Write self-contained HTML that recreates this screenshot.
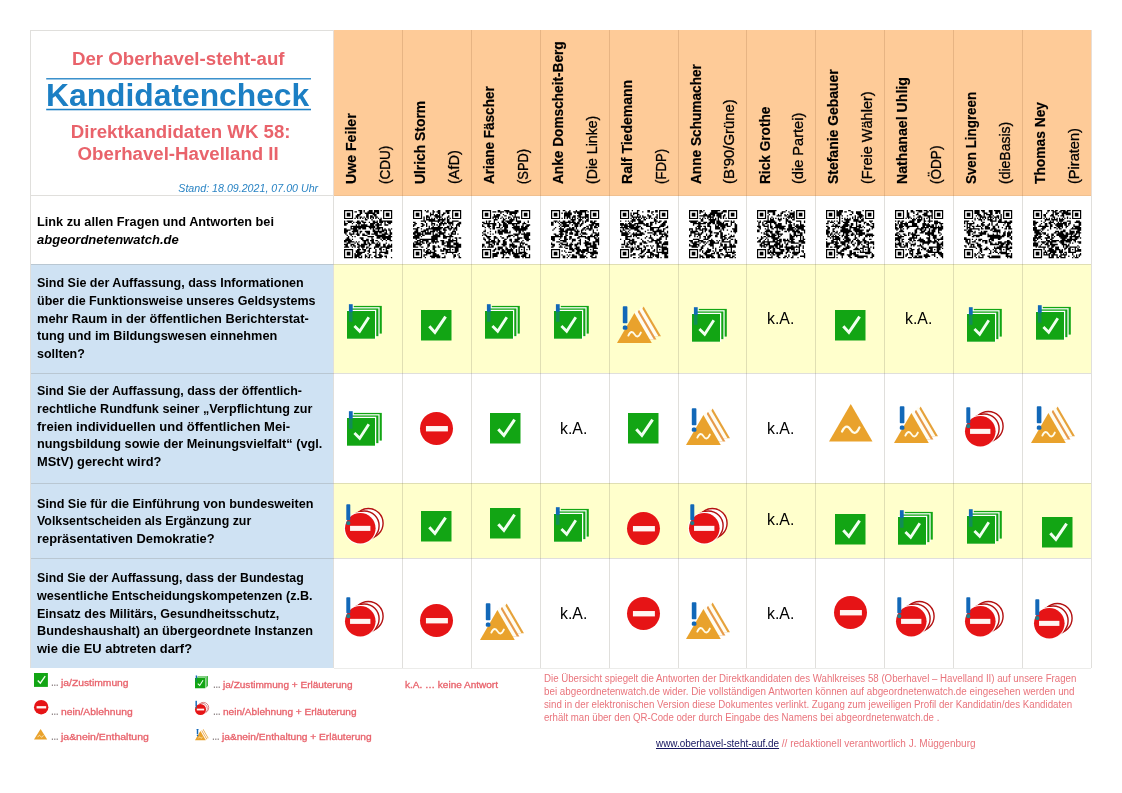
<!DOCTYPE html>
<html lang="de"><head><meta charset="utf-8"><title>Kandidatencheck – Der Oberhavel-steht-auf</title>
<style>
html,body{margin:0;padding:0;background:#fff}
body{width:1122px;height:793px;position:relative;overflow:hidden;font-family:"Liberation Sans",sans-serif}
.b{position:absolute}
.i{position:absolute;overflow:visible}
.t{position:absolute;white-space:pre;line-height:1;transform-origin:0 0;margin:0}
.r{transform-origin:0 0}
</style></head><body>
<div class="b" style="left:333.50px;top:30.40px;width:757.90px;height:165.50px;background:#fecb98"></div>
<div class="b" style="left:30.60px;top:264.40px;width:302.90px;height:403.90px;background:#cfe2f3"></div>
<div class="b" style="left:333.50px;top:264.40px;width:757.90px;height:109.00px;background:#ffffcc"></div>
<div class="b" style="left:333.50px;top:483.40px;width:757.90px;height:75.00px;background:#ffffcc"></div>
<div class="b" style="left:30.60px;top:29.90px;width:302.90px;height:1.00px;background:rgba(100,95,80,0.2)"></div>
<div class="b" style="left:30.60px;top:195.40px;width:302.90px;height:1.00px;background:rgba(100,95,80,0.2)"></div>
<div class="b" style="left:333.50px;top:195.40px;width:757.90px;height:1.00px;background:rgba(120,100,80,0.10)"></div>
<div class="b" style="left:30.60px;top:263.90px;width:1060.80px;height:1.00px;background:rgba(100,95,80,0.2)"></div>
<div class="b" style="left:30.60px;top:372.90px;width:1060.80px;height:1.00px;background:rgba(100,95,80,0.2)"></div>
<div class="b" style="left:30.60px;top:482.90px;width:1060.80px;height:1.00px;background:rgba(100,95,80,0.2)"></div>
<div class="b" style="left:30.60px;top:557.90px;width:1060.80px;height:1.00px;background:rgba(100,95,80,0.2)"></div>
<div class="b" style="left:333.50px;top:667.80px;width:757.90px;height:1.00px;background:rgba(100,95,80,0.12)"></div>
<div class="b" style="left:30.10px;top:30.40px;width:1.00px;height:637.90px;background:rgba(100,95,80,0.2)"></div>
<div class="b" style="left:333.00px;top:30.40px;width:1.00px;height:165.50px;background:rgba(140,90,50,0.2)"></div>
<div class="b" style="left:333.00px;top:195.90px;width:1.00px;height:472.40px;background:rgba(100,95,80,0.2)"></div>
<div class="b" style="left:401.90px;top:30.40px;width:1.00px;height:165.50px;background:rgba(140,90,50,0.2)"></div>
<div class="b" style="left:401.90px;top:195.90px;width:1.00px;height:472.40px;background:rgba(100,95,80,0.2)"></div>
<div class="b" style="left:470.80px;top:30.40px;width:1.00px;height:165.50px;background:rgba(140,90,50,0.2)"></div>
<div class="b" style="left:470.80px;top:195.90px;width:1.00px;height:472.40px;background:rgba(100,95,80,0.2)"></div>
<div class="b" style="left:539.70px;top:30.40px;width:1.00px;height:165.50px;background:rgba(140,90,50,0.2)"></div>
<div class="b" style="left:539.70px;top:195.90px;width:1.00px;height:472.40px;background:rgba(100,95,80,0.2)"></div>
<div class="b" style="left:608.60px;top:30.40px;width:1.00px;height:165.50px;background:rgba(140,90,50,0.2)"></div>
<div class="b" style="left:608.60px;top:195.90px;width:1.00px;height:472.40px;background:rgba(100,95,80,0.2)"></div>
<div class="b" style="left:677.50px;top:30.40px;width:1.00px;height:165.50px;background:rgba(140,90,50,0.2)"></div>
<div class="b" style="left:677.50px;top:195.90px;width:1.00px;height:472.40px;background:rgba(100,95,80,0.2)"></div>
<div class="b" style="left:746.40px;top:30.40px;width:1.00px;height:165.50px;background:rgba(140,90,50,0.2)"></div>
<div class="b" style="left:746.40px;top:195.90px;width:1.00px;height:472.40px;background:rgba(100,95,80,0.2)"></div>
<div class="b" style="left:815.30px;top:30.40px;width:1.00px;height:165.50px;background:rgba(140,90,50,0.2)"></div>
<div class="b" style="left:815.30px;top:195.90px;width:1.00px;height:472.40px;background:rgba(100,95,80,0.2)"></div>
<div class="b" style="left:884.20px;top:30.40px;width:1.00px;height:165.50px;background:rgba(140,90,50,0.2)"></div>
<div class="b" style="left:884.20px;top:195.90px;width:1.00px;height:472.40px;background:rgba(100,95,80,0.2)"></div>
<div class="b" style="left:953.10px;top:30.40px;width:1.00px;height:165.50px;background:rgba(140,90,50,0.2)"></div>
<div class="b" style="left:953.10px;top:195.90px;width:1.00px;height:472.40px;background:rgba(100,95,80,0.2)"></div>
<div class="b" style="left:1022.00px;top:30.40px;width:1.00px;height:165.50px;background:rgba(140,90,50,0.2)"></div>
<div class="b" style="left:1022.00px;top:195.90px;width:1.00px;height:472.40px;background:rgba(100,95,80,0.2)"></div>
<div class="b" style="left:1090.90px;top:30.40px;width:1.00px;height:165.50px;background:rgba(140,90,50,0.2)"></div>
<div class="b" style="left:1090.90px;top:195.90px;width:1.00px;height:472.40px;background:rgba(100,95,80,0.2)"></div>
<svg class="i" style="left:40px;top:70px" width="280" height="50" viewBox="40 70 280 50"><rect x="46.2" y="78.15" width="264.8" height="1.3" fill="#1c7fc4"/><rect x="46.2" y="108.75" width="264.8" height="1.55" fill="#1c7fc4"/></svg>
<svg class="i" style="left:344.00px;top:209.80px" width="48.2" height="48.2" viewBox="0 0 37 37"><path d="M11 0h3v1h-3zM15 0h1v1h-1zM19 0h3v1h-3zM23 0h4v1h-4zM28 0h1v1h-1zM8 1h2v1h-2zM12 1h2v1h-2zM15 1h1v1h-1zM18 1h4v1h-4zM23 1h4v1h-4zM12 2h2v1h-2zM16 2h8v1h-8zM25 2h2v1h-2zM10 3h3v1h-3zM17 3h2v1h-2zM22 3h3v1h-3zM9 4h3v1h-3zM17 4h2v1h-2zM20 4h2v1h-2zM23 4h2v1h-2zM9 5h2v1h-2zM12 5h2v1h-2zM15 5h1v1h-1zM17 5h2v1h-2zM20 5h3v1h-3zM24 5h2v1h-2zM8 6h1v1h-1zM10 6h1v1h-1zM12 6h1v1h-1zM14 6h1v1h-1zM16 6h1v1h-1zM18 6h1v1h-1zM20 6h1v1h-1zM22 6h1v1h-1zM24 6h1v1h-1zM26 6h1v1h-1zM28 6h1v1h-1zM16 7h2v1h-2zM21 7h1v1h-1zM27 7h2v1h-2zM0 8h1v1h-1zM2 8h5v1h-5zM10 8h2v1h-2zM13 8h2v1h-2zM22 8h2v1h-2zM25 8h1v1h-1zM27 8h10v1h-10zM0 9h1v1h-1zM3 9h3v1h-3zM7 9h1v1h-1zM9 9h4v1h-4zM14 9h3v1h-3zM19 9h1v1h-1zM22 9h4v1h-4zM27 9h3v1h-3zM31 9h1v1h-1zM33 9h4v1h-4zM0 10h3v1h-3zM6 10h1v1h-1zM10 10h3v1h-3zM15 10h1v1h-1zM20 10h4v1h-4zM25 10h2v1h-2zM28 10h1v1h-1zM31 10h1v1h-1zM34 10h2v1h-2zM0 11h2v1h-2zM9 11h1v1h-1zM11 11h1v1h-1zM13 11h5v1h-5zM20 11h3v1h-3zM24 11h5v1h-5zM31 11h3v1h-3zM5 12h19v1h-19zM25 12h2v1h-2zM5 13h1v1h-1zM7 13h10v1h-10zM19 13h5v1h-5zM25 13h5v1h-5zM0 14h2v1h-2zM5 14h5v1h-5zM11 14h2v1h-2zM14 14h3v1h-3zM20 14h1v1h-1zM22 14h1v1h-1zM24 14h4v1h-4zM29 14h1v1h-1zM31 14h1v1h-1zM34 14h1v1h-1zM36 14h1v1h-1zM0 15h5v1h-5zM7 15h4v1h-4zM22 15h2v1h-2zM26 15h1v1h-1zM29 15h4v1h-4zM34 15h2v1h-2zM0 16h3v1h-3zM6 16h5v1h-5zM12 16h2v1h-2zM16 16h4v1h-4zM22 16h9v1h-9zM32 16h1v1h-1zM35 16h1v1h-1zM0 17h2v1h-2zM4 17h1v1h-1zM7 17h1v1h-1zM10 17h1v1h-1zM12 17h1v1h-1zM17 17h3v1h-3zM23 17h3v1h-3zM27 17h2v1h-2zM31 17h2v1h-2zM35 17h2v1h-2zM1 18h1v1h-1zM4 18h4v1h-4zM9 18h3v1h-3zM14 18h2v1h-2zM18 18h2v1h-2zM21 18h5v1h-5zM29 18h5v1h-5zM35 18h2v1h-2zM2 19h1v1h-1zM5 19h1v1h-1zM10 19h2v1h-2zM14 19h4v1h-4zM24 19h8v1h-8zM34 19h2v1h-2zM3 20h1v1h-1zM6 20h1v1h-1zM8 20h1v1h-1zM18 20h5v1h-5zM25 20h12v1h-12zM2 21h2v1h-2zM12 21h3v1h-3zM21 21h1v1h-1zM25 21h3v1h-3zM29 21h7v1h-7zM1 22h4v1h-4zM6 22h1v1h-1zM13 22h2v1h-2zM17 22h2v1h-2zM21 22h2v1h-2zM28 22h1v1h-1zM30 22h2v1h-2zM33 22h3v1h-3zM0 23h6v1h-6zM14 23h5v1h-5zM20 23h3v1h-3zM24 23h2v1h-2zM29 23h1v1h-1zM32 23h1v1h-1zM35 23h2v1h-2zM0 24h2v1h-2zM3 24h5v1h-5zM9 24h1v1h-1zM11 24h1v1h-1zM15 24h2v1h-2zM18 24h1v1h-1zM21 24h2v1h-2zM26 24h1v1h-1zM2 25h3v1h-3zM8 25h1v1h-1zM10 25h1v1h-1zM15 25h2v1h-2zM18 25h2v1h-2zM21 25h3v1h-3zM25 25h1v1h-1zM27 25h1v1h-1zM32 25h1v1h-1zM0 26h3v1h-3zM5 26h3v1h-3zM10 26h2v1h-2zM13 26h5v1h-5zM19 26h2v1h-2zM24 26h4v1h-4zM30 26h2v1h-2zM34 26h1v1h-1zM36 26h1v1h-1zM1 27h2v1h-2zM5 27h1v1h-1zM7 27h2v1h-2zM11 27h5v1h-5zM19 27h1v1h-1zM24 27h4v1h-4zM30 27h2v1h-2zM33 27h4v1h-4zM0 28h4v1h-4zM6 28h1v1h-1zM8 28h1v1h-1zM10 28h2v1h-2zM13 28h3v1h-3zM17 28h2v1h-2zM23 28h4v1h-4zM28 28h9v1h-9zM11 29h1v1h-1zM14 29h1v1h-1zM17 29h1v1h-1zM19 29h2v1h-2zM23 29h1v1h-1zM27 29h2v1h-2zM32 29h3v1h-3zM10 30h3v1h-3zM14 30h3v1h-3zM19 30h1v1h-1zM24 30h1v1h-1zM27 30h2v1h-2zM30 30h1v1h-1zM32 30h1v1h-1zM36 30h1v1h-1zM9 31h3v1h-3zM15 31h2v1h-2zM18 31h2v1h-2zM24 31h1v1h-1zM28 31h1v1h-1zM32 31h2v1h-2zM36 31h1v1h-1zM9 32h7v1h-7zM19 32h1v1h-1zM22 32h3v1h-3zM27 32h7v1h-7zM8 33h1v1h-1zM10 33h4v1h-4zM18 33h1v1h-1zM24 33h1v1h-1zM27 33h1v1h-1zM31 33h3v1h-3zM8 34h5v1h-5zM16 34h1v1h-1zM19 34h2v1h-2zM24 34h1v1h-1zM26 34h3v1h-3zM8 35h4v1h-4zM13 35h1v1h-1zM16 35h2v1h-2zM19 35h1v1h-1zM23 35h2v1h-2zM27 35h3v1h-3zM31 35h2v1h-2zM8 36h2v1h-2zM11 36h3v1h-3zM16 36h1v1h-1zM18 36h2v1h-2zM21 36h1v1h-1zM24 36h5v1h-5zM32 36h1v1h-1zM36 36h1v1h-1z" fill="#000"/><path d="M0 0h7v7h-7zM0.92 0.92v5.16h5.16v-5.16zM2.1 2.1h2.8v2.8h-2.8zM30 0h7v7h-7zM30.92 0.92v5.16h5.16v-5.16zM32.1 2.1h2.8v2.8h-2.8zM0 30h7v7h-7zM0.92 30.92v5.16h5.16v-5.16zM2.1 32.1h2.8v2.8h-2.8z" fill="#000" fill-rule="evenodd"/></svg>
<svg class="i" style="left:412.90px;top:209.80px" width="48.2" height="48.2" viewBox="0 0 37 37"><path d="M9 0h1v1h-1zM11 0h1v1h-1zM15 0h1v1h-1zM19 0h2v1h-2zM25 0h4v1h-4zM10 1h2v1h-2zM15 1h2v1h-2zM18 1h3v1h-3zM25 1h3v1h-3zM13 2h1v1h-1zM15 2h1v1h-1zM19 2h2v1h-2zM23 2h2v1h-2zM26 2h2v1h-2zM13 3h3v1h-3zM17 3h2v1h-2zM20 3h1v1h-1zM22 3h2v1h-2zM10 4h2v1h-2zM13 4h1v1h-1zM16 4h5v1h-5zM22 4h1v1h-1zM27 4h1v1h-1zM8 5h1v1h-1zM10 5h3v1h-3zM17 5h5v1h-5zM26 5h2v1h-2zM8 6h1v1h-1zM10 6h1v1h-1zM12 6h1v1h-1zM14 6h1v1h-1zM16 6h1v1h-1zM18 6h1v1h-1zM20 6h1v1h-1zM22 6h1v1h-1zM24 6h1v1h-1zM26 6h1v1h-1zM28 6h1v1h-1zM8 7h1v1h-1zM10 7h7v1h-7zM19 7h6v1h-6zM26 7h2v1h-2zM6 8h4v1h-4zM12 8h9v1h-9zM22 8h2v1h-2zM26 8h2v1h-2zM30 8h5v1h-5zM0 9h2v1h-2zM9 9h1v1h-1zM14 9h1v1h-1zM19 9h1v1h-1zM21 9h2v1h-2zM24 9h1v1h-1zM26 9h5v1h-5zM35 9h2v1h-2zM1 10h2v1h-2zM6 10h2v1h-2zM10 10h1v1h-1zM14 10h3v1h-3zM20 10h6v1h-6zM27 10h4v1h-4zM34 10h3v1h-3zM0 11h2v1h-2zM7 11h2v1h-2zM10 11h1v1h-1zM14 11h1v1h-1zM16 11h1v1h-1zM18 11h1v1h-1zM20 11h2v1h-2zM23 11h1v1h-1zM28 11h1v1h-1zM30 11h1v1h-1zM33 11h3v1h-3zM0 12h1v1h-1zM6 12h2v1h-2zM10 12h1v1h-1zM12 12h1v1h-1zM15 12h1v1h-1zM19 12h2v1h-2zM26 12h2v1h-2zM29 12h1v1h-1zM33 12h1v1h-1zM35 12h1v1h-1zM3 13h2v1h-2zM12 13h1v1h-1zM14 13h9v1h-9zM24 13h4v1h-4zM29 13h2v1h-2zM32 13h2v1h-2zM0 14h4v1h-4zM6 14h1v1h-1zM10 14h12v1h-12zM23 14h2v1h-2zM27 14h3v1h-3zM31 14h3v1h-3zM2 15h2v1h-2zM8 15h4v1h-4zM15 15h6v1h-6zM23 15h3v1h-3zM28 15h1v1h-1zM31 15h1v1h-1zM33 15h1v1h-1zM1 16h3v1h-3zM6 16h4v1h-4zM11 16h1v1h-1zM13 16h4v1h-4zM18 16h1v1h-1zM20 16h2v1h-2zM24 16h1v1h-1zM30 16h3v1h-3zM0 17h6v1h-6zM7 17h1v1h-1zM9 17h5v1h-5zM15 17h1v1h-1zM19 17h6v1h-6zM29 17h2v1h-2zM32 17h1v1h-1zM0 18h2v1h-2zM3 18h5v1h-5zM9 18h5v1h-5zM15 18h1v1h-1zM17 18h2v1h-2zM20 18h4v1h-4zM27 18h1v1h-1zM29 18h4v1h-4zM34 18h1v1h-1zM1 19h5v1h-5zM7 19h2v1h-2zM15 19h6v1h-6zM23 19h2v1h-2zM28 19h2v1h-2zM0 20h5v1h-5zM6 20h1v1h-1zM14 20h7v1h-7zM23 20h8v1h-8zM0 21h5v1h-5zM14 21h5v1h-5zM23 21h3v1h-3zM28 21h1v1h-1zM32 21h2v1h-2zM35 21h2v1h-2zM2 22h1v1h-1zM5 22h14v1h-14zM27 22h2v1h-2zM30 22h1v1h-1zM33 22h1v1h-1zM3 23h3v1h-3zM7 23h5v1h-5zM14 23h3v1h-3zM18 23h1v1h-1zM21 23h3v1h-3zM27 23h7v1h-7zM1 24h3v1h-3zM5 24h3v1h-3zM10 24h2v1h-2zM14 24h6v1h-6zM22 24h2v1h-2zM25 24h6v1h-6zM33 24h1v1h-1zM0 25h1v1h-1zM2 25h4v1h-4zM7 25h2v1h-2zM10 25h1v1h-1zM12 25h2v1h-2zM15 25h1v1h-1zM17 25h1v1h-1zM22 25h3v1h-3zM26 25h3v1h-3zM31 25h4v1h-4zM0 26h7v1h-7zM11 26h2v1h-2zM22 26h2v1h-2zM26 26h3v1h-3zM31 26h6v1h-6zM0 27h2v1h-2zM5 27h1v1h-1zM11 27h2v1h-2zM15 27h2v1h-2zM19 27h1v1h-1zM24 27h7v1h-7zM33 27h4v1h-4zM0 28h4v1h-4zM6 28h2v1h-2zM11 28h1v1h-1zM15 28h3v1h-3zM19 28h2v1h-2zM26 28h11v1h-11zM10 29h1v1h-1zM15 29h2v1h-2zM23 29h2v1h-2zM28 29h1v1h-1zM32 29h3v1h-3zM8 30h1v1h-1zM11 30h2v1h-2zM15 30h2v1h-2zM21 30h1v1h-1zM23 30h6v1h-6zM30 30h1v1h-1zM32 30h3v1h-3zM8 31h1v1h-1zM10 31h2v1h-2zM13 31h1v1h-1zM16 31h2v1h-2zM21 31h3v1h-3zM25 31h2v1h-2zM28 31h1v1h-1zM32 31h3v1h-3zM9 32h8v1h-8zM25 32h9v1h-9zM10 33h4v1h-4zM15 33h3v1h-3zM22 33h2v1h-2zM25 33h1v1h-1zM30 33h1v1h-1zM35 33h1v1h-1zM8 34h3v1h-3zM15 34h5v1h-5zM31 34h2v1h-2zM34 34h1v1h-1zM8 35h1v1h-1zM13 35h8v1h-8zM24 35h1v1h-1zM31 35h2v1h-2zM35 35h1v1h-1zM9 36h1v1h-1zM14 36h3v1h-3zM18 36h3v1h-3zM22 36h3v1h-3zM31 36h1v1h-1zM35 36h2v1h-2z" fill="#000"/><path d="M0 0h7v7h-7zM0.92 0.92v5.16h5.16v-5.16zM2.1 2.1h2.8v2.8h-2.8zM30 0h7v7h-7zM30.92 0.92v5.16h5.16v-5.16zM32.1 2.1h2.8v2.8h-2.8zM0 30h7v7h-7zM0.92 30.92v5.16h5.16v-5.16zM2.1 32.1h2.8v2.8h-2.8z" fill="#000" fill-rule="evenodd"/></svg>
<svg class="i" style="left:481.80px;top:209.80px" width="48.2" height="48.2" viewBox="0 0 37 37"><path d="M12 0h2v1h-2zM17 0h4v1h-4zM25 0h3v1h-3zM8 1h3v1h-3zM12 1h5v1h-5zM18 1h10v1h-10zM14 2h1v1h-1zM19 2h1v1h-1zM21 2h6v1h-6zM9 3h1v1h-1zM11 3h3v1h-3zM16 3h1v1h-1zM21 3h2v1h-2zM25 3h1v1h-1zM9 4h5v1h-5zM17 4h2v1h-2zM23 4h1v1h-1zM25 4h1v1h-1zM8 5h5v1h-5zM15 5h1v1h-1zM20 5h2v1h-2zM24 5h5v1h-5zM8 6h1v1h-1zM10 6h1v1h-1zM12 6h1v1h-1zM14 6h1v1h-1zM16 6h1v1h-1zM18 6h1v1h-1zM20 6h1v1h-1zM22 6h1v1h-1zM24 6h1v1h-1zM26 6h1v1h-1zM28 6h1v1h-1zM9 7h3v1h-3zM16 7h2v1h-2zM21 7h4v1h-4zM26 7h1v1h-1zM3 8h1v1h-1zM5 8h2v1h-2zM9 8h1v1h-1zM15 8h2v1h-2zM18 8h6v1h-6zM26 8h4v1h-4zM35 8h1v1h-1zM0 9h2v1h-2zM3 9h1v1h-1zM5 9h1v1h-1zM9 9h1v1h-1zM12 9h1v1h-1zM15 9h3v1h-3zM19 9h4v1h-4zM27 9h3v1h-3zM32 9h1v1h-1zM35 9h1v1h-1zM1 10h10v1h-10zM13 10h1v1h-1zM16 10h3v1h-3zM20 10h9v1h-9zM31 10h3v1h-3zM0 11h1v1h-1zM4 11h2v1h-2zM8 11h3v1h-3zM13 11h2v1h-2zM16 11h4v1h-4zM23 11h2v1h-2zM26 11h1v1h-1zM31 11h1v1h-1zM34 11h3v1h-3zM0 12h2v1h-2zM4 12h3v1h-3zM8 12h2v1h-2zM13 12h1v1h-1zM16 12h4v1h-4zM24 12h5v1h-5zM30 12h2v1h-2zM33 12h3v1h-3zM2 13h1v1h-1zM5 13h1v1h-1zM8 13h2v1h-2zM11 13h3v1h-3zM15 13h1v1h-1zM17 13h3v1h-3zM23 13h6v1h-6zM30 13h5v1h-5zM6 14h1v1h-1zM8 14h2v1h-2zM14 14h1v1h-1zM17 14h2v1h-2zM24 14h11v1h-11zM2 15h1v1h-1zM12 15h2v1h-2zM15 15h5v1h-5zM25 15h9v1h-9zM1 16h2v1h-2zM6 16h1v1h-1zM10 16h1v1h-1zM12 16h8v1h-8zM21 16h1v1h-1zM26 16h1v1h-1zM28 16h2v1h-2zM31 16h1v1h-1zM0 17h1v1h-1zM4 17h1v1h-1zM10 17h1v1h-1zM12 17h4v1h-4zM17 17h5v1h-5zM28 17h2v1h-2zM32 17h1v1h-1zM34 17h3v1h-3zM1 18h2v1h-2zM6 18h1v1h-1zM8 18h1v1h-1zM13 18h3v1h-3zM24 18h5v1h-5zM30 18h7v1h-7zM0 19h1v1h-1zM2 19h2v1h-2zM20 19h4v1h-4zM25 19h3v1h-3zM32 19h5v1h-5zM3 20h4v1h-4zM9 20h2v1h-2zM14 20h1v1h-1zM19 20h3v1h-3zM24 20h1v1h-1zM27 20h1v1h-1zM32 20h4v1h-4zM1 21h1v1h-1zM4 21h2v1h-2zM9 21h3v1h-3zM15 21h2v1h-2zM19 21h1v1h-1zM27 21h4v1h-4zM32 21h4v1h-4zM1 22h2v1h-2zM5 22h2v1h-2zM9 22h1v1h-1zM12 22h1v1h-1zM17 22h2v1h-2zM21 22h2v1h-2zM25 22h4v1h-4zM33 22h4v1h-4zM2 23h1v1h-1zM5 23h1v1h-1zM7 23h3v1h-3zM12 23h2v1h-2zM16 23h2v1h-2zM21 23h2v1h-2zM25 23h3v1h-3zM31 23h1v1h-1zM34 23h2v1h-2zM3 24h8v1h-8zM12 24h2v1h-2zM16 24h3v1h-3zM22 24h1v1h-1zM24 24h5v1h-5zM30 24h1v1h-1zM3 25h3v1h-3zM8 25h2v1h-2zM11 25h2v1h-2zM16 25h3v1h-3zM23 25h1v1h-1zM29 25h4v1h-4zM0 26h2v1h-2zM5 26h3v1h-3zM9 26h1v1h-1zM11 26h2v1h-2zM15 26h4v1h-4zM21 26h4v1h-4zM29 26h1v1h-1zM31 26h1v1h-1zM33 26h2v1h-2zM0 27h2v1h-2zM5 27h1v1h-1zM7 27h2v1h-2zM16 27h2v1h-2zM21 27h6v1h-6zM29 27h2v1h-2zM35 27h2v1h-2zM0 28h1v1h-1zM2 28h1v1h-1zM4 28h5v1h-5zM12 28h4v1h-4zM18 28h1v1h-1zM21 28h1v1h-1zM23 28h4v1h-4zM28 28h5v1h-5zM35 28h2v1h-2zM10 29h1v1h-1zM12 29h4v1h-4zM18 29h2v1h-2zM22 29h1v1h-1zM24 29h1v1h-1zM28 29h1v1h-1zM32 29h1v1h-1zM36 29h1v1h-1zM9 30h2v1h-2zM12 30h2v1h-2zM15 30h2v1h-2zM18 30h6v1h-6zM26 30h1v1h-1zM28 30h1v1h-1zM30 30h1v1h-1zM32 30h1v1h-1zM34 30h1v1h-1zM36 30h1v1h-1zM8 31h2v1h-2zM15 31h3v1h-3zM19 31h5v1h-5zM26 31h1v1h-1zM28 31h1v1h-1zM32 31h1v1h-1zM11 32h2v1h-2zM14 32h8v1h-8zM23 32h2v1h-2zM26 32h1v1h-1zM28 32h6v1h-6zM8 33h5v1h-5zM14 33h3v1h-3zM18 33h1v1h-1zM20 33h2v1h-2zM23 33h8v1h-8zM32 33h3v1h-3zM8 34h4v1h-4zM16 34h2v1h-2zM21 34h1v1h-1zM24 34h4v1h-4zM31 34h3v1h-3zM36 34h1v1h-1zM8 35h4v1h-4zM16 35h1v1h-1zM24 35h5v1h-5zM30 35h4v1h-4zM36 35h1v1h-1zM8 36h1v1h-1zM15 36h2v1h-2zM18 36h3v1h-3zM25 36h4v1h-4zM31 36h1v1h-1zM33 36h4v1h-4z" fill="#000"/><path d="M0 0h7v7h-7zM0.92 0.92v5.16h5.16v-5.16zM2.1 2.1h2.8v2.8h-2.8zM30 0h7v7h-7zM30.92 0.92v5.16h5.16v-5.16zM32.1 2.1h2.8v2.8h-2.8zM0 30h7v7h-7zM0.92 30.92v5.16h5.16v-5.16zM2.1 32.1h2.8v2.8h-2.8z" fill="#000" fill-rule="evenodd"/></svg>
<svg class="i" style="left:550.70px;top:209.80px" width="48.2" height="48.2" viewBox="0 0 37 37"><path d="M9 0h2v1h-2zM14 0h1v1h-1zM19 0h1v1h-1zM22 0h6v1h-6zM11 1h1v1h-1zM13 1h2v1h-2zM17 1h10v1h-10zM28 1h1v1h-1zM8 2h1v1h-1zM10 2h6v1h-6zM18 2h1v1h-1zM20 2h4v1h-4zM26 2h1v1h-1zM10 3h6v1h-6zM21 3h3v1h-3zM26 3h3v1h-3zM10 4h5v1h-5zM17 4h2v1h-2zM20 4h3v1h-3zM26 4h3v1h-3zM10 5h1v1h-1zM12 5h3v1h-3zM16 5h3v1h-3zM21 5h8v1h-8zM8 6h1v1h-1zM10 6h1v1h-1zM12 6h1v1h-1zM14 6h1v1h-1zM16 6h1v1h-1zM18 6h1v1h-1zM20 6h1v1h-1zM22 6h1v1h-1zM24 6h1v1h-1zM26 6h1v1h-1zM28 6h1v1h-1zM15 7h4v1h-4zM21 7h3v1h-3zM27 7h2v1h-2zM2 8h3v1h-3zM6 8h1v1h-1zM9 8h2v1h-2zM13 8h2v1h-2zM16 8h2v1h-2zM21 8h2v1h-2zM24 8h1v1h-1zM26 8h3v1h-3zM30 8h2v1h-2zM33 8h2v1h-2zM0 9h2v1h-2zM3 9h1v1h-1zM5 9h1v1h-1zM7 9h12v1h-12zM20 9h2v1h-2zM24 9h1v1h-1zM26 9h1v1h-1zM30 9h4v1h-4zM0 10h2v1h-2zM6 10h1v1h-1zM8 10h4v1h-4zM14 10h1v1h-1zM17 10h5v1h-5zM23 10h2v1h-2zM31 10h6v1h-6zM0 11h2v1h-2zM7 11h1v1h-1zM9 11h5v1h-5zM16 11h1v1h-1zM18 11h3v1h-3zM22 11h2v1h-2zM29 11h4v1h-4zM34 11h3v1h-3zM6 12h1v1h-1zM8 12h6v1h-6zM18 12h3v1h-3zM22 12h1v1h-1zM27 12h2v1h-2zM30 12h2v1h-2zM33 12h2v1h-2zM36 12h1v1h-1zM3 13h1v1h-1zM7 13h1v1h-1zM10 13h1v1h-1zM14 13h1v1h-1zM16 13h2v1h-2zM19 13h1v1h-1zM25 13h2v1h-2zM28 13h1v1h-1zM30 13h2v1h-2zM33 13h3v1h-3zM2 14h1v1h-1zM6 14h4v1h-4zM12 14h6v1h-6zM19 14h1v1h-1zM24 14h2v1h-2zM27 14h5v1h-5zM1 15h1v1h-1zM7 15h3v1h-3zM11 15h8v1h-8zM20 15h1v1h-1zM23 15h2v1h-2zM26 15h1v1h-1zM29 15h2v1h-2zM32 15h1v1h-1zM35 15h1v1h-1zM6 16h7v1h-7zM15 16h1v1h-1zM18 16h4v1h-4zM23 16h1v1h-1zM32 16h1v1h-1zM7 17h2v1h-2zM11 17h2v1h-2zM14 17h3v1h-3zM19 17h2v1h-2zM23 17h4v1h-4zM32 17h3v1h-3zM36 17h1v1h-1zM2 18h2v1h-2zM6 18h4v1h-4zM11 18h1v1h-1zM14 18h3v1h-3zM18 18h3v1h-3zM22 18h1v1h-1zM24 18h4v1h-4zM31 18h1v1h-1zM34 18h3v1h-3zM3 19h3v1h-3zM7 19h2v1h-2zM11 19h2v1h-2zM18 19h3v1h-3zM23 19h1v1h-1zM30 19h2v1h-2zM33 19h4v1h-4zM0 20h9v1h-9zM10 20h2v1h-2zM14 20h2v1h-2zM21 20h6v1h-6zM28 20h6v1h-6zM35 20h1v1h-1zM0 21h3v1h-3zM7 21h1v1h-1zM10 21h2v1h-2zM14 21h2v1h-2zM20 21h2v1h-2zM26 21h4v1h-4zM33 21h2v1h-2zM36 21h1v1h-1zM0 22h3v1h-3zM6 22h1v1h-1zM10 22h3v1h-3zM14 22h1v1h-1zM16 22h3v1h-3zM22 22h1v1h-1zM28 22h2v1h-2zM34 22h3v1h-3zM1 23h2v1h-2zM7 23h5v1h-5zM16 23h3v1h-3zM21 23h2v1h-2zM26 23h1v1h-1zM29 23h1v1h-1zM34 23h3v1h-3zM4 24h3v1h-3zM9 24h3v1h-3zM16 24h1v1h-1zM22 24h1v1h-1zM26 24h3v1h-3zM32 24h5v1h-5zM0 25h1v1h-1zM7 25h2v1h-2zM12 25h1v1h-1zM15 25h1v1h-1zM20 25h3v1h-3zM25 25h6v1h-6zM32 25h2v1h-2zM36 25h1v1h-1zM0 26h3v1h-3zM6 26h1v1h-1zM8 26h5v1h-5zM14 26h3v1h-3zM18 26h3v1h-3zM22 26h1v1h-1zM26 26h5v1h-5zM32 26h3v1h-3zM36 26h1v1h-1zM1 27h2v1h-2zM7 27h1v1h-1zM11 27h5v1h-5zM18 27h2v1h-2zM26 27h2v1h-2zM30 27h5v1h-5zM0 28h2v1h-2zM6 28h3v1h-3zM10 28h1v1h-1zM14 28h2v1h-2zM19 28h3v1h-3zM27 28h8v1h-8zM11 29h2v1h-2zM14 29h3v1h-3zM18 29h4v1h-4zM27 29h2v1h-2zM32 29h4v1h-4zM14 30h4v1h-4zM19 30h4v1h-4zM24 30h5v1h-5zM30 30h1v1h-1zM32 30h1v1h-1zM8 31h1v1h-1zM10 31h1v1h-1zM16 31h2v1h-2zM20 31h9v1h-9zM32 31h3v1h-3zM11 32h1v1h-1zM13 32h3v1h-3zM19 32h3v1h-3zM23 32h3v1h-3zM28 32h8v1h-8zM19 33h3v1h-3zM24 33h1v1h-1zM27 33h1v1h-1zM30 33h6v1h-6zM8 34h1v1h-1zM12 34h1v1h-1zM14 34h1v1h-1zM16 34h2v1h-2zM21 34h4v1h-4zM31 34h2v1h-2zM9 35h2v1h-2zM13 35h1v1h-1zM16 35h4v1h-4zM22 35h5v1h-5zM30 35h2v1h-2zM34 35h1v1h-1zM9 36h2v1h-2zM12 36h1v1h-1zM15 36h5v1h-5zM22 36h4v1h-4zM27 36h1v1h-1zM31 36h4v1h-4z" fill="#000"/><path d="M0 0h7v7h-7zM0.92 0.92v5.16h5.16v-5.16zM2.1 2.1h2.8v2.8h-2.8zM30 0h7v7h-7zM30.92 0.92v5.16h5.16v-5.16zM32.1 2.1h2.8v2.8h-2.8zM0 30h7v7h-7zM0.92 30.92v5.16h5.16v-5.16zM2.1 32.1h2.8v2.8h-2.8z" fill="#000" fill-rule="evenodd"/></svg>
<svg class="i" style="left:619.60px;top:209.80px" width="48.2" height="48.2" viewBox="0 0 37 37"><path d="M9 0h1v1h-1zM13 0h2v1h-2zM21 0h2v1h-2zM27 0h2v1h-2zM13 1h1v1h-1zM17 1h1v1h-1zM21 1h2v1h-2zM24 1h2v1h-2zM27 1h2v1h-2zM8 2h1v1h-1zM10 2h4v1h-4zM24 2h1v1h-1zM8 3h1v1h-1zM10 3h1v1h-1zM13 3h2v1h-2zM21 3h1v1h-1zM25 3h1v1h-1zM28 3h1v1h-1zM8 4h2v1h-2zM13 4h1v1h-1zM15 4h1v1h-1zM17 4h1v1h-1zM21 4h3v1h-3zM28 4h1v1h-1zM9 5h7v1h-7zM17 5h3v1h-3zM22 5h2v1h-2zM27 5h2v1h-2zM8 6h1v1h-1zM10 6h1v1h-1zM12 6h1v1h-1zM14 6h1v1h-1zM16 6h1v1h-1zM18 6h1v1h-1zM20 6h1v1h-1zM22 6h1v1h-1zM24 6h1v1h-1zM26 6h1v1h-1zM28 6h1v1h-1zM9 7h3v1h-3zM13 7h3v1h-3zM18 7h2v1h-2zM26 7h2v1h-2zM0 8h1v1h-1zM4 8h1v1h-1zM6 8h1v1h-1zM8 8h4v1h-4zM14 8h4v1h-4zM26 8h3v1h-3zM30 8h2v1h-2zM34 8h2v1h-2zM7 9h1v1h-1zM9 9h1v1h-1zM14 9h4v1h-4zM23 9h3v1h-3zM27 9h1v1h-1zM29 9h2v1h-2zM33 9h3v1h-3zM0 10h3v1h-3zM4 10h1v1h-1zM6 10h3v1h-3zM11 10h8v1h-8zM20 10h2v1h-2zM23 10h2v1h-2zM27 10h1v1h-1zM32 10h3v1h-3zM0 11h6v1h-6zM7 11h5v1h-5zM13 11h1v1h-1zM18 11h4v1h-4zM23 11h2v1h-2zM31 11h4v1h-4zM1 12h1v1h-1zM3 12h8v1h-8zM12 12h4v1h-4zM20 12h4v1h-4zM30 12h4v1h-4zM36 12h1v1h-1zM0 13h6v1h-6zM7 13h8v1h-8zM16 13h1v1h-1zM23 13h8v1h-8zM35 13h2v1h-2zM2 14h1v1h-1zM4 14h3v1h-3zM8 14h6v1h-6zM16 14h2v1h-2zM23 14h3v1h-3zM29 14h1v1h-1zM33 14h2v1h-2zM0 15h1v1h-1zM2 15h2v1h-2zM7 15h1v1h-1zM11 15h4v1h-4zM21 15h1v1h-1zM23 15h3v1h-3zM28 15h4v1h-4zM33 15h1v1h-1zM0 16h2v1h-2zM4 16h1v1h-1zM6 16h1v1h-1zM13 16h3v1h-3zM19 16h1v1h-1zM25 16h9v1h-9zM36 16h1v1h-1zM1 17h5v1h-5zM7 17h1v1h-1zM10 17h1v1h-1zM12 17h1v1h-1zM15 17h3v1h-3zM21 17h4v1h-4zM26 17h2v1h-2zM30 17h2v1h-2zM34 17h1v1h-1zM36 17h1v1h-1zM1 18h6v1h-6zM9 18h10v1h-10zM25 18h3v1h-3zM30 18h6v1h-6zM1 19h5v1h-5zM8 19h1v1h-1zM10 19h7v1h-7zM23 19h1v1h-1zM26 19h1v1h-1zM28 19h1v1h-1zM32 19h1v1h-1zM34 19h3v1h-3zM4 20h5v1h-5zM10 20h1v1h-1zM12 20h1v1h-1zM20 20h1v1h-1zM23 20h1v1h-1zM31 20h3v1h-3zM35 20h2v1h-2zM4 21h2v1h-2zM13 21h2v1h-2zM19 21h1v1h-1zM22 21h3v1h-3zM30 21h2v1h-2zM35 21h1v1h-1zM0 22h1v1h-1zM4 22h4v1h-4zM9 22h2v1h-2zM16 22h1v1h-1zM24 22h2v1h-2zM28 22h4v1h-4zM35 22h1v1h-1zM3 23h1v1h-1zM7 23h4v1h-4zM17 23h1v1h-1zM21 23h1v1h-1zM24 23h7v1h-7zM3 24h1v1h-1zM6 24h2v1h-2zM9 24h4v1h-4zM17 24h3v1h-3zM22 24h3v1h-3zM27 24h2v1h-2zM30 24h2v1h-2zM34 24h3v1h-3zM3 25h1v1h-1zM5 25h1v1h-1zM7 25h5v1h-5zM15 25h2v1h-2zM18 25h3v1h-3zM27 25h5v1h-5zM33 25h4v1h-4zM1 26h3v1h-3zM5 26h2v1h-2zM8 26h2v1h-2zM11 26h1v1h-1zM15 26h2v1h-2zM28 26h2v1h-2zM32 26h5v1h-5zM4 27h2v1h-2zM13 27h2v1h-2zM18 27h1v1h-1zM20 27h2v1h-2zM23 27h1v1h-1zM25 27h1v1h-1zM28 27h3v1h-3zM32 27h1v1h-1zM1 28h2v1h-2zM4 28h4v1h-4zM9 28h1v1h-1zM11 28h1v1h-1zM13 28h2v1h-2zM18 28h2v1h-2zM24 28h1v1h-1zM28 28h8v1h-8zM8 29h3v1h-3zM12 29h1v1h-1zM14 29h3v1h-3zM19 29h1v1h-1zM24 29h1v1h-1zM28 29h1v1h-1zM32 29h5v1h-5zM8 30h3v1h-3zM12 30h3v1h-3zM16 30h1v1h-1zM18 30h2v1h-2zM21 30h2v1h-2zM26 30h1v1h-1zM28 30h1v1h-1zM30 30h1v1h-1zM32 30h5v1h-5zM8 31h2v1h-2zM16 31h3v1h-3zM21 31h2v1h-2zM25 31h2v1h-2zM28 31h1v1h-1zM32 31h2v1h-2zM36 31h1v1h-1zM8 32h1v1h-1zM16 32h2v1h-2zM20 32h5v1h-5zM28 32h9v1h-9zM10 33h2v1h-2zM15 33h2v1h-2zM19 33h1v1h-1zM23 33h3v1h-3zM29 33h1v1h-1zM32 33h5v1h-5zM8 34h4v1h-4zM14 34h1v1h-1zM18 34h1v1h-1zM23 34h7v1h-7zM34 34h2v1h-2zM8 35h1v1h-1zM15 35h4v1h-4zM21 35h1v1h-1zM23 35h1v1h-1zM25 35h1v1h-1zM27 35h3v1h-3zM34 35h3v1h-3zM10 36h2v1h-2zM14 36h1v1h-1zM16 36h2v1h-2zM21 36h4v1h-4zM28 36h2v1h-2zM31 36h1v1h-1zM34 36h3v1h-3z" fill="#000"/><path d="M0 0h7v7h-7zM0.92 0.92v5.16h5.16v-5.16zM2.1 2.1h2.8v2.8h-2.8zM30 0h7v7h-7zM30.92 0.92v5.16h5.16v-5.16zM32.1 2.1h2.8v2.8h-2.8zM0 30h7v7h-7zM0.92 30.92v5.16h5.16v-5.16zM2.1 32.1h2.8v2.8h-2.8z" fill="#000" fill-rule="evenodd"/></svg>
<svg class="i" style="left:688.50px;top:209.80px" width="48.2" height="48.2" viewBox="0 0 37 37"><path d="M8 0h2v1h-2zM11 0h1v1h-1zM17 0h7v1h-7zM26 0h3v1h-3zM8 1h3v1h-3zM17 1h5v1h-5zM25 1h4v1h-4zM8 2h1v1h-1zM12 2h1v1h-1zM16 2h10v1h-10zM11 3h3v1h-3zM15 3h5v1h-5zM21 3h4v1h-4zM27 3h1v1h-1zM8 4h9v1h-9zM18 4h2v1h-2zM21 4h4v1h-4zM26 4h2v1h-2zM11 5h1v1h-1zM14 5h5v1h-5zM22 5h3v1h-3zM26 5h1v1h-1zM8 6h1v1h-1zM10 6h1v1h-1zM12 6h1v1h-1zM14 6h1v1h-1zM16 6h1v1h-1zM18 6h1v1h-1zM20 6h1v1h-1zM22 6h1v1h-1zM24 6h1v1h-1zM26 6h1v1h-1zM28 6h1v1h-1zM9 7h2v1h-2zM15 7h6v1h-6zM22 7h1v1h-1zM0 8h7v1h-7zM9 8h2v1h-2zM16 8h4v1h-4zM21 8h3v1h-3zM27 8h4v1h-4zM32 8h1v1h-1zM34 8h1v1h-1zM1 9h5v1h-5zM7 9h2v1h-2zM11 9h3v1h-3zM15 9h5v1h-5zM21 9h4v1h-4zM26 9h1v1h-1zM32 9h3v1h-3zM3 10h10v1h-10zM14 10h3v1h-3zM18 10h2v1h-2zM21 10h6v1h-6zM28 10h2v1h-2zM32 10h1v1h-1zM35 10h1v1h-1zM3 11h1v1h-1zM7 11h2v1h-2zM14 11h2v1h-2zM20 11h1v1h-1zM22 11h8v1h-8zM32 11h1v1h-1zM35 11h2v1h-2zM6 12h4v1h-4zM11 12h2v1h-2zM14 12h3v1h-3zM20 12h3v1h-3zM24 12h4v1h-4zM29 12h3v1h-3zM35 12h2v1h-2zM5 13h1v1h-1zM7 13h2v1h-2zM12 13h1v1h-1zM16 13h1v1h-1zM20 13h4v1h-4zM25 13h3v1h-3zM35 13h2v1h-2zM0 14h3v1h-3zM5 14h4v1h-4zM10 14h4v1h-4zM16 14h1v1h-1zM20 14h4v1h-4zM25 14h2v1h-2zM33 14h4v1h-4zM0 15h1v1h-1zM2 15h1v1h-1zM5 15h1v1h-1zM8 15h3v1h-3zM12 15h2v1h-2zM15 15h2v1h-2zM24 15h1v1h-1zM26 15h1v1h-1zM29 15h1v1h-1zM34 15h3v1h-3zM1 16h6v1h-6zM10 16h1v1h-1zM12 16h1v1h-1zM15 16h3v1h-3zM23 16h2v1h-2zM32 16h1v1h-1zM34 16h3v1h-3zM1 17h4v1h-4zM7 17h1v1h-1zM9 17h2v1h-2zM16 17h2v1h-2zM19 17h4v1h-4zM24 17h2v1h-2zM35 17h1v1h-1zM1 18h1v1h-1zM4 18h6v1h-6zM13 18h1v1h-1zM16 18h1v1h-1zM21 18h2v1h-2zM24 18h2v1h-2zM30 18h1v1h-1zM0 19h2v1h-2zM4 19h1v1h-1zM7 19h2v1h-2zM13 19h1v1h-1zM15 19h3v1h-3zM20 19h2v1h-2zM24 19h2v1h-2zM27 19h2v1h-2zM32 19h1v1h-1zM34 19h1v1h-1zM0 20h1v1h-1zM4 20h1v1h-1zM6 20h1v1h-1zM8 20h1v1h-1zM11 20h2v1h-2zM14 20h3v1h-3zM20 20h2v1h-2zM24 20h4v1h-4zM31 20h4v1h-4zM8 21h1v1h-1zM12 21h1v1h-1zM14 21h2v1h-2zM24 21h2v1h-2zM27 21h2v1h-2zM30 21h2v1h-2zM3 22h5v1h-5zM11 22h4v1h-4zM17 22h1v1h-1zM25 22h3v1h-3zM29 22h1v1h-1zM32 22h2v1h-2zM35 22h1v1h-1zM0 23h3v1h-3zM7 23h4v1h-4zM15 23h4v1h-4zM21 23h1v1h-1zM23 23h1v1h-1zM25 23h2v1h-2zM31 23h1v1h-1zM35 23h2v1h-2zM1 24h2v1h-2zM4 24h4v1h-4zM9 24h4v1h-4zM14 24h1v1h-1zM16 24h4v1h-4zM22 24h1v1h-1zM25 24h7v1h-7zM35 24h2v1h-2zM2 25h4v1h-4zM8 25h1v1h-1zM11 25h1v1h-1zM13 25h1v1h-1zM16 25h7v1h-7zM24 25h1v1h-1zM31 25h1v1h-1zM35 25h2v1h-2zM0 26h1v1h-1zM3 26h5v1h-5zM12 26h1v1h-1zM15 26h4v1h-4zM24 26h2v1h-2zM27 26h2v1h-2zM31 26h2v1h-2zM34 26h1v1h-1zM0 27h6v1h-6zM7 27h1v1h-1zM10 27h2v1h-2zM16 27h3v1h-3zM24 27h2v1h-2zM27 27h2v1h-2zM31 27h5v1h-5zM2 28h5v1h-5zM9 28h2v1h-2zM18 28h1v1h-1zM23 28h1v1h-1zM26 28h10v1h-10zM9 29h2v1h-2zM14 29h1v1h-1zM18 29h1v1h-1zM20 29h1v1h-1zM26 29h3v1h-3zM32 29h1v1h-1zM8 30h2v1h-2zM14 30h3v1h-3zM20 30h1v1h-1zM23 30h3v1h-3zM27 30h2v1h-2zM30 30h1v1h-1zM32 30h1v1h-1zM8 31h1v1h-1zM10 31h1v1h-1zM13 31h4v1h-4zM18 31h1v1h-1zM20 31h1v1h-1zM23 31h2v1h-2zM28 31h1v1h-1zM32 31h1v1h-1zM34 31h1v1h-1zM10 32h1v1h-1zM12 32h4v1h-4zM19 32h1v1h-1zM21 32h2v1h-2zM28 32h8v1h-8zM11 33h3v1h-3zM17 33h3v1h-3zM21 33h2v1h-2zM24 33h2v1h-2zM29 33h1v1h-1zM33 33h2v1h-2zM8 34h1v1h-1zM12 34h6v1h-6zM22 34h2v1h-2zM25 34h2v1h-2zM28 34h4v1h-4zM35 34h1v1h-1zM8 35h3v1h-3zM13 35h6v1h-6zM22 35h2v1h-2zM27 35h5v1h-5zM33 35h2v1h-2zM8 36h1v1h-1zM10 36h2v1h-2zM13 36h3v1h-3zM17 36h3v1h-3zM22 36h3v1h-3zM27 36h1v1h-1zM31 36h3v1h-3zM35 36h1v1h-1z" fill="#000"/><path d="M0 0h7v7h-7zM0.92 0.92v5.16h5.16v-5.16zM2.1 2.1h2.8v2.8h-2.8zM30 0h7v7h-7zM30.92 0.92v5.16h5.16v-5.16zM32.1 2.1h2.8v2.8h-2.8zM0 30h7v7h-7zM0.92 30.92v5.16h5.16v-5.16zM2.1 32.1h2.8v2.8h-2.8z" fill="#000" fill-rule="evenodd"/></svg>
<svg class="i" style="left:757.40px;top:209.80px" width="48.2" height="48.2" viewBox="0 0 37 37"><path d="M8 0h7v1h-7zM22 0h1v1h-1zM26 0h1v1h-1zM8 1h6v1h-6zM19 1h3v1h-3zM24 1h1v1h-1zM28 1h1v1h-1zM8 2h1v1h-1zM12 2h2v1h-2zM18 2h2v1h-2zM25 2h4v1h-4zM9 3h1v1h-1zM12 3h2v1h-2zM16 3h1v1h-1zM18 3h1v1h-1zM21 3h1v1h-1zM23 3h1v1h-1zM25 3h4v1h-4zM8 4h1v1h-1zM15 4h4v1h-4zM21 4h2v1h-2zM24 4h2v1h-2zM27 4h2v1h-2zM8 5h1v1h-1zM11 5h1v1h-1zM23 5h6v1h-6zM8 6h1v1h-1zM10 6h1v1h-1zM12 6h1v1h-1zM14 6h1v1h-1zM16 6h1v1h-1zM18 6h1v1h-1zM20 6h1v1h-1zM22 6h1v1h-1zM24 6h1v1h-1zM26 6h1v1h-1zM28 6h1v1h-1zM8 7h1v1h-1zM10 7h3v1h-3zM16 7h3v1h-3zM22 7h2v1h-2zM27 7h2v1h-2zM0 8h1v1h-1zM2 8h1v1h-1zM5 8h9v1h-9zM17 8h1v1h-1zM22 8h4v1h-4zM30 8h4v1h-4zM36 8h1v1h-1zM1 9h2v1h-2zM4 9h1v1h-1zM7 9h8v1h-8zM22 9h1v1h-1zM24 9h3v1h-3zM33 9h1v1h-1zM36 9h1v1h-1zM1 10h1v1h-1zM4 10h1v1h-1zM6 10h2v1h-2zM10 10h1v1h-1zM13 10h2v1h-2zM16 10h3v1h-3zM22 10h1v1h-1zM25 10h1v1h-1zM28 10h1v1h-1zM33 10h1v1h-1zM1 11h1v1h-1zM4 11h2v1h-2zM8 11h1v1h-1zM10 11h1v1h-1zM14 11h5v1h-5zM24 11h3v1h-3zM28 11h1v1h-1zM30 11h2v1h-2zM33 11h3v1h-3zM0 12h3v1h-3zM5 12h4v1h-4zM10 12h2v1h-2zM14 12h8v1h-8zM24 12h3v1h-3zM29 12h8v1h-8zM1 13h2v1h-2zM8 13h1v1h-1zM10 13h2v1h-2zM13 13h8v1h-8zM24 13h5v1h-5zM30 13h6v1h-6zM2 14h1v1h-1zM6 14h1v1h-1zM8 14h1v1h-1zM11 14h2v1h-2zM15 14h1v1h-1zM17 14h5v1h-5zM23 14h5v1h-5zM29 14h1v1h-1zM31 14h5v1h-5zM0 15h2v1h-2zM7 15h3v1h-3zM15 15h1v1h-1zM19 15h1v1h-1zM23 15h6v1h-6zM30 15h2v1h-2zM34 15h3v1h-3zM0 16h2v1h-2zM6 16h6v1h-6zM14 16h4v1h-4zM21 16h2v1h-2zM24 16h1v1h-1zM27 16h6v1h-6zM36 16h1v1h-1zM3 17h1v1h-1zM5 17h1v1h-1zM7 17h1v1h-1zM10 17h2v1h-2zM14 17h3v1h-3zM28 17h2v1h-2zM31 17h4v1h-4zM36 17h1v1h-1zM5 18h4v1h-4zM11 18h3v1h-3zM15 18h5v1h-5zM25 18h1v1h-1zM28 18h2v1h-2zM33 18h2v1h-2zM7 19h3v1h-3zM11 19h4v1h-4zM16 19h1v1h-1zM18 19h1v1h-1zM25 19h2v1h-2zM28 19h7v1h-7zM3 20h1v1h-1zM5 20h2v1h-2zM8 20h6v1h-6zM16 20h2v1h-2zM25 20h4v1h-4zM30 20h1v1h-1zM33 20h1v1h-1zM35 20h1v1h-1zM0 21h1v1h-1zM3 21h2v1h-2zM7 21h1v1h-1zM11 21h6v1h-6zM25 21h3v1h-3zM33 21h1v1h-1zM35 21h1v1h-1zM2 22h2v1h-2zM6 22h1v1h-1zM8 22h1v1h-1zM12 22h4v1h-4zM17 22h2v1h-2zM20 22h2v1h-2zM23 22h1v1h-1zM25 22h4v1h-4zM33 22h1v1h-1zM35 22h2v1h-2zM1 23h2v1h-2zM5 23h1v1h-1zM8 23h1v1h-1zM12 23h2v1h-2zM15 23h4v1h-4zM20 23h5v1h-5zM26 23h2v1h-2zM32 23h4v1h-4zM0 24h3v1h-3zM4 24h12v1h-12zM17 24h2v1h-2zM21 24h1v1h-1zM24 24h5v1h-5zM32 24h5v1h-5zM3 25h3v1h-3zM8 25h2v1h-2zM14 25h4v1h-4zM21 25h1v1h-1zM23 25h1v1h-1zM26 25h6v1h-6zM34 25h3v1h-3zM2 26h2v1h-2zM5 26h5v1h-5zM13 26h5v1h-5zM19 26h1v1h-1zM22 26h2v1h-2zM32 26h2v1h-2zM2 27h4v1h-4zM7 27h1v1h-1zM9 27h7v1h-7zM17 27h3v1h-3zM22 27h1v1h-1zM26 27h2v1h-2zM30 27h1v1h-1zM32 27h2v1h-2zM35 27h1v1h-1zM3 28h1v1h-1zM5 28h2v1h-2zM9 28h4v1h-4zM14 28h2v1h-2zM17 28h3v1h-3zM21 28h12v1h-12zM35 28h1v1h-1zM9 29h2v1h-2zM12 29h2v1h-2zM15 29h3v1h-3zM22 29h7v1h-7zM32 29h1v1h-1zM35 29h1v1h-1zM8 30h2v1h-2zM12 30h2v1h-2zM17 30h4v1h-4zM22 30h3v1h-3zM26 30h3v1h-3zM30 30h1v1h-1zM32 30h1v1h-1zM8 31h1v1h-1zM10 31h1v1h-1zM12 31h2v1h-2zM18 31h3v1h-3zM23 31h2v1h-2zM28 31h1v1h-1zM32 31h1v1h-1zM34 31h2v1h-2zM8 32h12v1h-12zM22 32h2v1h-2zM25 32h1v1h-1zM27 32h6v1h-6zM35 32h1v1h-1zM8 33h2v1h-2zM11 33h2v1h-2zM14 33h6v1h-6zM22 33h1v1h-1zM27 33h5v1h-5zM36 33h1v1h-1zM10 34h1v1h-1zM12 34h2v1h-2zM15 34h3v1h-3zM24 34h1v1h-1zM28 34h3v1h-3zM36 34h1v1h-1zM11 35h1v1h-1zM15 35h2v1h-2zM21 35h2v1h-2zM24 35h1v1h-1zM27 35h1v1h-1zM33 35h4v1h-4zM8 36h4v1h-4zM16 36h2v1h-2zM20 36h2v1h-2zM23 36h1v1h-1zM26 36h2v1h-2zM31 36h1v1h-1zM36 36h1v1h-1z" fill="#000"/><path d="M0 0h7v7h-7zM0.92 0.92v5.16h5.16v-5.16zM2.1 2.1h2.8v2.8h-2.8zM30 0h7v7h-7zM30.92 0.92v5.16h5.16v-5.16zM32.1 2.1h2.8v2.8h-2.8zM0 30h7v7h-7zM0.92 30.92v5.16h5.16v-5.16zM2.1 32.1h2.8v2.8h-2.8z" fill="#000" fill-rule="evenodd"/></svg>
<svg class="i" style="left:826.30px;top:209.80px" width="48.2" height="48.2" viewBox="0 0 37 37"><path d="M8 0h1v1h-1zM10 0h3v1h-3zM17 0h2v1h-2zM28 0h1v1h-1zM8 1h5v1h-5zM14 1h2v1h-2zM19 1h2v1h-2zM23 1h4v1h-4zM8 2h4v1h-4zM20 2h1v1h-1zM23 2h4v1h-4zM8 3h4v1h-4zM18 3h2v1h-2zM24 3h4v1h-4zM8 4h3v1h-3zM12 4h1v1h-1zM16 4h1v1h-1zM22 4h1v1h-1zM25 4h4v1h-4zM10 5h1v1h-1zM20 5h1v1h-1zM22 5h1v1h-1zM24 5h4v1h-4zM8 6h1v1h-1zM10 6h1v1h-1zM12 6h1v1h-1zM14 6h1v1h-1zM16 6h1v1h-1zM18 6h1v1h-1zM20 6h1v1h-1zM22 6h1v1h-1zM24 6h1v1h-1zM26 6h1v1h-1zM28 6h1v1h-1zM10 7h1v1h-1zM14 7h5v1h-5zM21 7h4v1h-4zM27 7h2v1h-2zM1 8h2v1h-2zM4 8h1v1h-1zM6 8h1v1h-1zM8 8h1v1h-1zM10 8h1v1h-1zM12 8h1v1h-1zM15 8h3v1h-3zM21 8h8v1h-8zM33 8h3v1h-3zM1 9h1v1h-1zM3 9h3v1h-3zM9 9h2v1h-2zM13 9h5v1h-5zM23 9h1v1h-1zM25 9h2v1h-2zM29 9h2v1h-2zM34 9h1v1h-1zM0 10h2v1h-2zM6 10h1v1h-1zM9 10h2v1h-2zM14 10h3v1h-3zM19 10h2v1h-2zM23 10h1v1h-1zM29 10h1v1h-1zM31 10h2v1h-2zM35 10h2v1h-2zM5 11h1v1h-1zM7 11h2v1h-2zM13 11h5v1h-5zM19 11h2v1h-2zM23 11h1v1h-1zM25 11h2v1h-2zM31 11h3v1h-3zM36 11h1v1h-1zM0 12h2v1h-2zM4 12h7v1h-7zM12 12h5v1h-5zM18 12h2v1h-2zM23 12h4v1h-4zM28 12h1v1h-1zM34 12h3v1h-3zM1 13h2v1h-2zM7 13h1v1h-1zM9 13h1v1h-1zM11 13h4v1h-4zM18 13h6v1h-6zM25 13h3v1h-3zM29 13h1v1h-1zM35 13h2v1h-2zM1 14h2v1h-2zM5 14h2v1h-2zM12 14h5v1h-5zM18 14h1v1h-1zM21 14h5v1h-5zM33 14h1v1h-1zM35 14h1v1h-1zM0 15h2v1h-2zM5 15h1v1h-1zM11 15h8v1h-8zM21 15h8v1h-8zM31 15h3v1h-3zM0 16h3v1h-3zM5 16h2v1h-2zM8 16h1v1h-1zM11 16h9v1h-9zM22 16h6v1h-6zM31 16h2v1h-2zM0 17h3v1h-3zM4 17h1v1h-1zM7 17h2v1h-2zM10 17h1v1h-1zM13 17h5v1h-5zM20 17h1v1h-1zM23 17h1v1h-1zM25 17h5v1h-5zM0 18h2v1h-2zM3 18h2v1h-2zM6 18h1v1h-1zM9 18h1v1h-1zM13 18h1v1h-1zM15 18h2v1h-2zM19 18h3v1h-3zM23 18h7v1h-7zM31 18h5v1h-5zM1 19h1v1h-1zM3 19h1v1h-1zM5 19h1v1h-1zM7 19h1v1h-1zM10 19h1v1h-1zM12 19h2v1h-2zM15 19h3v1h-3zM19 19h2v1h-2zM22 19h1v1h-1zM25 19h3v1h-3zM30 19h7v1h-7zM1 20h2v1h-2zM4 20h6v1h-6zM12 20h1v1h-1zM14 20h3v1h-3zM22 20h1v1h-1zM25 20h1v1h-1zM30 20h2v1h-2zM33 20h1v1h-1zM35 20h1v1h-1zM3 21h1v1h-1zM5 21h1v1h-1zM7 21h4v1h-4zM14 21h4v1h-4zM22 21h2v1h-2zM29 21h1v1h-1zM0 22h1v1h-1zM5 22h6v1h-6zM13 22h1v1h-1zM15 22h4v1h-4zM21 22h2v1h-2zM24 22h1v1h-1zM28 22h2v1h-2zM33 22h2v1h-2zM4 23h2v1h-2zM8 23h1v1h-1zM10 23h1v1h-1zM14 23h5v1h-5zM20 23h1v1h-1zM23 23h3v1h-3zM28 23h3v1h-3zM0 24h1v1h-1zM4 24h5v1h-5zM11 24h7v1h-7zM19 24h2v1h-2zM24 24h4v1h-4zM29 24h4v1h-4zM34 24h3v1h-3zM0 25h6v1h-6zM7 25h3v1h-3zM11 25h4v1h-4zM17 25h1v1h-1zM19 25h1v1h-1zM22 25h1v1h-1zM24 25h3v1h-3zM29 25h2v1h-2zM32 25h5v1h-5zM0 26h3v1h-3zM6 26h3v1h-3zM12 26h3v1h-3zM16 26h1v1h-1zM20 26h2v1h-2zM24 26h2v1h-2zM27 26h1v1h-1zM31 26h2v1h-2zM36 26h1v1h-1zM0 27h2v1h-2zM7 27h5v1h-5zM14 27h1v1h-1zM16 27h2v1h-2zM21 27h1v1h-1zM24 27h1v1h-1zM28 27h2v1h-2zM32 27h1v1h-1zM0 28h2v1h-2zM3 28h2v1h-2zM6 28h5v1h-5zM15 28h4v1h-4zM23 28h1v1h-1zM28 28h5v1h-5zM34 28h1v1h-1zM36 28h1v1h-1zM8 29h2v1h-2zM13 29h5v1h-5zM22 29h3v1h-3zM26 29h3v1h-3zM32 29h2v1h-2zM36 29h1v1h-1zM8 30h1v1h-1zM12 30h4v1h-4zM21 30h5v1h-5zM28 30h1v1h-1zM30 30h1v1h-1zM32 30h2v1h-2zM8 31h1v1h-1zM11 31h3v1h-3zM18 31h2v1h-2zM26 31h1v1h-1zM28 31h1v1h-1zM32 31h2v1h-2zM8 32h4v1h-4zM18 32h2v1h-2zM21 32h2v1h-2zM24 32h1v1h-1zM26 32h9v1h-9zM9 33h5v1h-5zM18 33h5v1h-5zM30 33h4v1h-4zM35 33h1v1h-1zM8 34h1v1h-1zM11 34h3v1h-3zM16 34h4v1h-4zM21 34h4v1h-4zM35 34h2v1h-2zM12 35h1v1h-1zM17 35h2v1h-2zM22 35h10v1h-10zM35 35h2v1h-2zM8 36h1v1h-1zM12 36h1v1h-1zM18 36h2v1h-2zM24 36h5v1h-5zM31 36h1v1h-1zM34 36h2v1h-2z" fill="#000"/><path d="M0 0h7v7h-7zM0.92 0.92v5.16h5.16v-5.16zM2.1 2.1h2.8v2.8h-2.8zM30 0h7v7h-7zM30.92 0.92v5.16h5.16v-5.16zM32.1 2.1h2.8v2.8h-2.8zM0 30h7v7h-7zM0.92 30.92v5.16h5.16v-5.16zM2.1 32.1h2.8v2.8h-2.8z" fill="#000" fill-rule="evenodd"/></svg>
<svg class="i" style="left:895.20px;top:209.80px" width="48.2" height="48.2" viewBox="0 0 37 37"><path d="M9 0h1v1h-1zM12 0h2v1h-2zM16 0h5v1h-5zM22 0h3v1h-3zM26 0h3v1h-3zM9 1h1v1h-1zM12 1h3v1h-3zM18 1h3v1h-3zM24 1h2v1h-2zM27 1h2v1h-2zM9 2h2v1h-2zM14 2h1v1h-1zM17 2h1v1h-1zM22 2h3v1h-3zM28 2h1v1h-1zM9 3h2v1h-2zM16 3h2v1h-2zM21 3h4v1h-4zM28 3h1v1h-1zM9 4h2v1h-2zM14 4h1v1h-1zM18 4h2v1h-2zM22 4h7v1h-7zM9 5h3v1h-3zM17 5h4v1h-4zM25 5h2v1h-2zM28 5h1v1h-1zM8 6h1v1h-1zM10 6h1v1h-1zM12 6h1v1h-1zM14 6h1v1h-1zM16 6h1v1h-1zM18 6h1v1h-1zM20 6h1v1h-1zM22 6h1v1h-1zM24 6h1v1h-1zM26 6h1v1h-1zM28 6h1v1h-1zM13 7h3v1h-3zM17 7h4v1h-4zM22 7h1v1h-1zM26 7h1v1h-1zM0 8h1v1h-1zM2 8h2v1h-2zM5 8h2v1h-2zM11 8h4v1h-4zM17 8h3v1h-3zM22 8h2v1h-2zM25 8h4v1h-4zM30 8h3v1h-3zM2 9h1v1h-1zM4 9h2v1h-2zM8 9h1v1h-1zM10 9h5v1h-5zM17 9h2v1h-2zM22 9h1v1h-1zM26 9h1v1h-1zM30 9h5v1h-5zM0 10h1v1h-1zM2 10h1v1h-1zM4 10h6v1h-6zM13 10h4v1h-4zM21 10h3v1h-3zM25 10h1v1h-1zM30 10h3v1h-3zM34 10h3v1h-3zM0 11h2v1h-2zM3 11h3v1h-3zM7 11h3v1h-3zM13 11h4v1h-4zM21 11h6v1h-6zM28 11h2v1h-2zM31 11h1v1h-1zM35 11h1v1h-1zM0 12h1v1h-1zM3 12h4v1h-4zM8 12h10v1h-10zM21 12h2v1h-2zM24 12h6v1h-6zM31 12h1v1h-1zM33 12h1v1h-1zM35 12h2v1h-2zM0 13h2v1h-2zM3 13h3v1h-3zM9 13h2v1h-2zM17 13h1v1h-1zM20 13h6v1h-6zM27 13h10v1h-10zM0 14h3v1h-3zM4 14h1v1h-1zM6 14h1v1h-1zM9 14h1v1h-1zM16 14h6v1h-6zM23 14h1v1h-1zM26 14h1v1h-1zM29 14h3v1h-3zM33 14h4v1h-4zM1 15h1v1h-1zM4 15h2v1h-2zM15 15h2v1h-2zM19 15h2v1h-2zM22 15h2v1h-2zM26 15h1v1h-1zM28 15h3v1h-3zM33 15h3v1h-3zM3 16h4v1h-4zM15 16h2v1h-2zM20 16h3v1h-3zM25 16h2v1h-2zM28 16h3v1h-3zM33 16h1v1h-1zM1 17h2v1h-2zM10 17h2v1h-2zM13 17h1v1h-1zM15 17h2v1h-2zM19 17h3v1h-3zM23 17h7v1h-7zM33 17h2v1h-2zM0 18h2v1h-2zM3 18h1v1h-1zM6 18h2v1h-2zM10 18h1v1h-1zM12 18h4v1h-4zM23 18h7v1h-7zM35 18h1v1h-1zM0 19h3v1h-3zM4 19h1v1h-1zM7 19h2v1h-2zM10 19h1v1h-1zM13 19h6v1h-6zM25 19h2v1h-2zM28 19h4v1h-4zM34 19h1v1h-1zM2 20h5v1h-5zM13 20h2v1h-2zM16 20h1v1h-1zM26 20h1v1h-1zM29 20h3v1h-3zM36 20h1v1h-1zM0 21h5v1h-5zM11 21h6v1h-6zM19 21h1v1h-1zM24 21h3v1h-3zM29 21h3v1h-3zM35 21h2v1h-2zM0 22h4v1h-4zM5 22h2v1h-2zM10 22h3v1h-3zM14 22h1v1h-1zM18 22h4v1h-4zM25 22h2v1h-2zM30 22h1v1h-1zM32 22h5v1h-5zM0 23h1v1h-1zM2 23h2v1h-2zM5 23h1v1h-1zM11 23h2v1h-2zM14 23h2v1h-2zM17 23h6v1h-6zM25 23h3v1h-3zM30 23h2v1h-2zM33 23h1v1h-1zM3 24h1v1h-1zM5 24h2v1h-2zM10 24h1v1h-1zM13 24h1v1h-1zM19 24h14v1h-14zM36 24h1v1h-1zM0 25h1v1h-1zM2 25h3v1h-3zM8 25h2v1h-2zM11 25h1v1h-1zM15 25h1v1h-1zM21 25h6v1h-6zM29 25h2v1h-2zM32 25h2v1h-2zM35 25h2v1h-2zM0 26h5v1h-5zM6 26h1v1h-1zM8 26h2v1h-2zM12 26h4v1h-4zM19 26h1v1h-1zM21 26h1v1h-1zM25 26h1v1h-1zM32 26h5v1h-5zM0 27h1v1h-1zM3 27h2v1h-2zM7 27h3v1h-3zM12 27h1v1h-1zM14 27h1v1h-1zM17 27h4v1h-4zM32 27h3v1h-3zM36 27h1v1h-1zM0 28h2v1h-2zM4 28h4v1h-4zM9 28h1v1h-1zM20 28h2v1h-2zM26 28h10v1h-10zM11 29h2v1h-2zM18 29h1v1h-1zM21 29h3v1h-3zM26 29h3v1h-3zM32 29h3v1h-3zM36 29h1v1h-1zM8 30h1v1h-1zM10 30h1v1h-1zM12 30h3v1h-3zM17 30h2v1h-2zM20 30h1v1h-1zM22 30h2v1h-2zM25 30h1v1h-1zM27 30h2v1h-2zM30 30h1v1h-1zM32 30h3v1h-3zM11 31h3v1h-3zM17 31h2v1h-2zM24 31h5v1h-5zM32 31h2v1h-2zM11 32h1v1h-1zM13 32h1v1h-1zM17 32h3v1h-3zM25 32h11v1h-11zM9 33h1v1h-1zM11 33h3v1h-3zM16 33h4v1h-4zM24 33h1v1h-1zM30 33h1v1h-1zM33 33h4v1h-4zM8 34h2v1h-2zM12 34h2v1h-2zM17 34h1v1h-1zM22 34h4v1h-4zM28 34h3v1h-3zM34 34h3v1h-3zM8 35h1v1h-1zM13 35h1v1h-1zM15 35h2v1h-2zM18 35h3v1h-3zM22 35h5v1h-5zM30 35h1v1h-1zM35 35h2v1h-2zM10 36h3v1h-3zM14 36h7v1h-7zM23 36h2v1h-2zM32 36h1v1h-1zM36 36h1v1h-1z" fill="#000"/><path d="M0 0h7v7h-7zM0.92 0.92v5.16h5.16v-5.16zM2.1 2.1h2.8v2.8h-2.8zM30 0h7v7h-7zM30.92 0.92v5.16h5.16v-5.16zM32.1 2.1h2.8v2.8h-2.8zM0 30h7v7h-7zM0.92 30.92v5.16h5.16v-5.16zM2.1 32.1h2.8v2.8h-2.8z" fill="#000" fill-rule="evenodd"/></svg>
<svg class="i" style="left:964.10px;top:209.80px" width="48.2" height="48.2" viewBox="0 0 37 37"><path d="M8 0h4v1h-4zM13 0h3v1h-3zM19 0h3v1h-3zM23 0h5v1h-5zM8 1h4v1h-4zM14 1h2v1h-2zM19 1h3v1h-3zM24 1h4v1h-4zM8 2h4v1h-4zM15 2h3v1h-3zM20 2h2v1h-2zM24 2h2v1h-2zM27 2h1v1h-1zM10 3h3v1h-3zM15 3h1v1h-1zM17 3h5v1h-5zM28 3h1v1h-1zM9 4h1v1h-1zM11 4h3v1h-3zM15 4h1v1h-1zM19 4h2v1h-2zM22 4h1v1h-1zM25 4h2v1h-2zM28 4h1v1h-1zM12 5h5v1h-5zM18 5h4v1h-4zM23 5h4v1h-4zM28 5h1v1h-1zM8 6h1v1h-1zM10 6h1v1h-1zM12 6h1v1h-1zM14 6h1v1h-1zM16 6h1v1h-1zM18 6h1v1h-1zM20 6h1v1h-1zM22 6h1v1h-1zM24 6h1v1h-1zM26 6h1v1h-1zM28 6h1v1h-1zM8 7h1v1h-1zM11 7h3v1h-3zM15 7h1v1h-1zM18 7h4v1h-4zM24 7h1v1h-1zM27 7h2v1h-2zM0 8h4v1h-4zM6 8h1v1h-1zM13 8h1v1h-1zM20 8h5v1h-5zM26 8h3v1h-3zM31 8h2v1h-2zM35 8h2v1h-2zM0 9h1v1h-1zM2 9h1v1h-1zM7 9h1v1h-1zM14 9h2v1h-2zM21 9h1v1h-1zM26 9h11v1h-11zM0 10h1v1h-1zM2 10h6v1h-6zM13 10h2v1h-2zM19 10h1v1h-1zM21 10h1v1h-1zM25 10h1v1h-1zM31 10h1v1h-1zM33 10h3v1h-3zM2 11h1v1h-1zM4 11h2v1h-2zM10 11h1v1h-1zM13 11h3v1h-3zM18 11h2v1h-2zM21 11h1v1h-1zM24 11h2v1h-2zM30 11h1v1h-1zM33 11h2v1h-2zM0 12h1v1h-1zM2 12h1v1h-1zM4 12h1v1h-1zM6 12h2v1h-2zM9 12h4v1h-4zM14 12h1v1h-1zM16 12h3v1h-3zM22 12h2v1h-2zM26 12h1v1h-1zM32 12h4v1h-4zM2 13h3v1h-3zM7 13h1v1h-1zM13 13h1v1h-1zM16 13h4v1h-4zM22 13h2v1h-2zM26 13h1v1h-1zM29 13h1v1h-1zM32 13h1v1h-1zM34 13h2v1h-2zM2 14h1v1h-1zM4 14h8v1h-8zM13 14h2v1h-2zM16 14h4v1h-4zM21 14h4v1h-4zM31 14h2v1h-2zM34 14h3v1h-3zM0 15h2v1h-2zM3 15h3v1h-3zM11 15h1v1h-1zM20 15h2v1h-2zM23 15h5v1h-5zM2 16h5v1h-5zM8 16h1v1h-1zM13 16h1v1h-1zM15 16h3v1h-3zM22 16h6v1h-6zM31 16h1v1h-1zM34 16h1v1h-1zM36 16h1v1h-1zM2 17h3v1h-3zM7 17h2v1h-2zM11 17h6v1h-6zM25 17h1v1h-1zM27 17h1v1h-1zM30 17h2v1h-2zM33 17h4v1h-4zM3 18h2v1h-2zM6 18h1v1h-1zM12 18h5v1h-5zM18 18h1v1h-1zM22 18h1v1h-1zM25 18h1v1h-1zM30 18h2v1h-2zM33 18h3v1h-3zM3 19h2v1h-2zM7 19h7v1h-7zM18 19h10v1h-10zM29 19h3v1h-3zM33 19h3v1h-3zM6 20h2v1h-2zM9 20h3v1h-3zM18 20h13v1h-13zM33 20h2v1h-2zM36 20h1v1h-1zM0 21h2v1h-2zM20 21h9v1h-9zM35 21h2v1h-2zM0 22h5v1h-5zM6 22h1v1h-1zM9 22h1v1h-1zM11 22h3v1h-3zM19 22h4v1h-4zM26 22h2v1h-2zM36 22h1v1h-1zM1 23h2v1h-2zM4 23h1v1h-1zM8 23h1v1h-1zM11 23h2v1h-2zM14 23h4v1h-4zM19 23h1v1h-1zM21 23h2v1h-2zM33 23h2v1h-2zM1 24h2v1h-2zM4 24h1v1h-1zM6 24h3v1h-3zM14 24h1v1h-1zM16 24h2v1h-2zM19 24h2v1h-2zM26 24h3v1h-3zM31 24h5v1h-5zM2 25h3v1h-3zM9 25h2v1h-2zM16 25h2v1h-2zM20 25h2v1h-2zM24 25h1v1h-1zM26 25h6v1h-6zM33 25h4v1h-4zM3 26h1v1h-1zM5 26h3v1h-3zM10 26h3v1h-3zM20 26h7v1h-7zM28 26h3v1h-3zM32 26h3v1h-3zM36 26h1v1h-1zM0 27h2v1h-2zM5 27h1v1h-1zM7 27h1v1h-1zM10 27h4v1h-4zM27 27h3v1h-3zM32 27h2v1h-2zM1 28h1v1h-1zM4 28h5v1h-5zM11 28h2v1h-2zM17 28h1v1h-1zM23 28h1v1h-1zM25 28h9v1h-9zM35 28h2v1h-2zM9 29h1v1h-1zM12 29h2v1h-2zM16 29h3v1h-3zM23 29h6v1h-6zM32 29h5v1h-5zM12 30h2v1h-2zM15 30h3v1h-3zM19 30h1v1h-1zM22 30h1v1h-1zM24 30h1v1h-1zM27 30h2v1h-2zM30 30h1v1h-1zM32 30h3v1h-3zM12 31h2v1h-2zM20 31h1v1h-1zM23 31h2v1h-2zM28 31h1v1h-1zM32 31h1v1h-1zM35 31h1v1h-1zM11 32h1v1h-1zM13 32h1v1h-1zM20 32h1v1h-1zM22 32h1v1h-1zM24 32h2v1h-2zM27 32h6v1h-6zM8 33h1v1h-1zM10 33h1v1h-1zM12 33h1v1h-1zM19 33h2v1h-2zM26 33h1v1h-1zM28 33h7v1h-7zM36 33h1v1h-1zM8 34h2v1h-2zM13 34h3v1h-3zM32 34h2v1h-2zM36 34h1v1h-1zM8 35h1v1h-1zM11 35h1v1h-1zM14 35h1v1h-1zM18 35h2v1h-2zM21 35h7v1h-7zM32 35h5v1h-5zM9 36h1v1h-1zM11 36h4v1h-4zM19 36h9v1h-9zM33 36h1v1h-1zM35 36h2v1h-2z" fill="#000"/><path d="M0 0h7v7h-7zM0.92 0.92v5.16h5.16v-5.16zM2.1 2.1h2.8v2.8h-2.8zM30 0h7v7h-7zM30.92 0.92v5.16h5.16v-5.16zM32.1 2.1h2.8v2.8h-2.8zM0 30h7v7h-7zM0.92 30.92v5.16h5.16v-5.16zM2.1 32.1h2.8v2.8h-2.8z" fill="#000" fill-rule="evenodd"/></svg>
<svg class="i" style="left:1033.00px;top:209.80px" width="48.2" height="48.2" viewBox="0 0 37 37"><path d="M11 0h2v1h-2zM14 0h2v1h-2zM17 0h2v1h-2zM21 0h4v1h-4zM26 0h3v1h-3zM11 1h1v1h-1zM15 1h3v1h-3zM20 1h2v1h-2zM23 1h4v1h-4zM10 2h1v1h-1zM15 2h1v1h-1zM17 2h3v1h-3zM22 2h7v1h-7zM8 3h2v1h-2zM14 3h2v1h-2zM17 3h2v1h-2zM22 3h2v1h-2zM25 3h4v1h-4zM8 4h2v1h-2zM13 4h3v1h-3zM19 4h1v1h-1zM21 4h3v1h-3zM9 5h1v1h-1zM15 5h2v1h-2zM23 5h1v1h-1zM26 5h1v1h-1zM8 6h1v1h-1zM10 6h1v1h-1zM12 6h1v1h-1zM14 6h1v1h-1zM16 6h1v1h-1zM18 6h1v1h-1zM20 6h1v1h-1zM22 6h1v1h-1zM24 6h1v1h-1zM26 6h1v1h-1zM28 6h1v1h-1zM9 7h4v1h-4zM14 7h5v1h-5zM20 7h4v1h-4zM0 8h2v1h-2zM6 8h1v1h-1zM9 8h1v1h-1zM13 8h1v1h-1zM15 8h1v1h-1zM18 8h1v1h-1zM20 8h3v1h-3zM26 8h3v1h-3zM33 8h3v1h-3zM0 9h4v1h-4zM8 9h1v1h-1zM12 9h4v1h-4zM19 9h1v1h-1zM21 9h1v1h-1zM23 9h3v1h-3zM28 9h1v1h-1zM32 9h5v1h-5zM0 10h3v1h-3zM6 10h1v1h-1zM9 10h2v1h-2zM12 10h2v1h-2zM16 10h1v1h-1zM18 10h8v1h-8zM27 10h2v1h-2zM35 10h2v1h-2zM0 11h2v1h-2zM5 11h1v1h-1zM9 11h2v1h-2zM13 11h2v1h-2zM17 11h6v1h-6zM24 11h2v1h-2zM27 11h1v1h-1zM31 11h1v1h-1zM35 11h2v1h-2zM1 12h1v1h-1zM4 12h8v1h-8zM13 12h2v1h-2zM18 12h5v1h-5zM25 12h2v1h-2zM31 12h5v1h-5zM0 13h3v1h-3zM7 13h3v1h-3zM13 13h1v1h-1zM16 13h2v1h-2zM19 13h2v1h-2zM22 13h1v1h-1zM25 13h1v1h-1zM30 13h1v1h-1zM32 13h5v1h-5zM0 14h3v1h-3zM6 14h3v1h-3zM13 14h1v1h-1zM18 14h1v1h-1zM20 14h2v1h-2zM29 14h8v1h-8zM0 15h6v1h-6zM7 15h1v1h-1zM11 15h1v1h-1zM23 15h2v1h-2zM28 15h1v1h-1zM34 15h3v1h-3zM1 16h4v1h-4zM6 16h1v1h-1zM17 16h3v1h-3zM21 16h4v1h-4zM28 16h4v1h-4zM33 16h3v1h-3zM1 17h5v1h-5zM7 17h3v1h-3zM16 17h2v1h-2zM19 17h4v1h-4zM25 17h2v1h-2zM28 17h4v1h-4zM33 17h4v1h-4zM2 18h5v1h-5zM8 18h2v1h-2zM11 18h1v1h-1zM14 18h2v1h-2zM18 18h6v1h-6zM25 18h6v1h-6zM32 18h2v1h-2zM35 18h1v1h-1zM1 19h3v1h-3zM5 19h1v1h-1zM10 19h2v1h-2zM14 19h2v1h-2zM18 19h9v1h-9zM29 19h1v1h-1zM31 19h2v1h-2zM35 19h1v1h-1zM1 20h2v1h-2zM4 20h3v1h-3zM11 20h2v1h-2zM14 20h1v1h-1zM16 20h1v1h-1zM20 20h7v1h-7zM28 20h8v1h-8zM0 21h6v1h-6zM9 21h4v1h-4zM14 21h2v1h-2zM21 21h5v1h-5zM28 21h2v1h-2zM32 21h3v1h-3zM36 21h1v1h-1zM0 22h2v1h-2zM3 22h1v1h-1zM6 22h1v1h-1zM10 22h1v1h-1zM13 22h2v1h-2zM22 22h3v1h-3zM26 22h8v1h-8zM0 23h3v1h-3zM10 23h3v1h-3zM14 23h6v1h-6zM21 23h9v1h-9zM31 23h2v1h-2zM1 24h1v1h-1zM4 24h1v1h-1zM6 24h4v1h-4zM11 24h7v1h-7zM20 24h4v1h-4zM25 24h4v1h-4zM32 24h1v1h-1zM34 24h3v1h-3zM0 25h4v1h-4zM7 25h2v1h-2zM10 25h2v1h-2zM13 25h2v1h-2zM21 25h3v1h-3zM28 25h1v1h-1zM30 25h1v1h-1zM35 25h2v1h-2zM0 26h4v1h-4zM6 26h1v1h-1zM9 26h3v1h-3zM13 26h6v1h-6zM22 26h4v1h-4zM27 26h1v1h-1zM0 27h4v1h-4zM5 27h1v1h-1zM11 27h2v1h-2zM14 27h3v1h-3zM23 27h1v1h-1zM25 27h3v1h-3zM34 27h1v1h-1zM2 28h1v1h-1zM4 28h6v1h-6zM11 28h1v1h-1zM14 28h2v1h-2zM17 28h3v1h-3zM23 28h1v1h-1zM25 28h2v1h-2zM28 28h6v1h-6zM35 28h1v1h-1zM8 29h1v1h-1zM12 29h3v1h-3zM17 29h3v1h-3zM24 29h2v1h-2zM27 29h2v1h-2zM32 29h1v1h-1zM34 29h1v1h-1zM8 30h1v1h-1zM12 30h4v1h-4zM17 30h4v1h-4zM22 30h1v1h-1zM24 30h1v1h-1zM27 30h2v1h-2zM30 30h1v1h-1zM32 30h1v1h-1zM34 30h3v1h-3zM9 31h1v1h-1zM11 31h7v1h-7zM20 31h3v1h-3zM27 31h2v1h-2zM32 31h5v1h-5zM8 32h3v1h-3zM13 32h5v1h-5zM20 32h3v1h-3zM24 32h2v1h-2zM27 32h6v1h-6zM8 33h1v1h-1zM10 33h1v1h-1zM12 33h2v1h-2zM15 33h2v1h-2zM21 33h1v1h-1zM23 33h1v1h-1zM25 33h1v1h-1zM30 33h1v1h-1zM36 33h1v1h-1zM8 34h5v1h-5zM14 34h5v1h-5zM21 34h5v1h-5zM30 34h1v1h-1zM33 34h1v1h-1zM35 34h2v1h-2zM12 35h1v1h-1zM14 35h2v1h-2zM18 35h1v1h-1zM20 35h2v1h-2zM24 35h1v1h-1zM27 35h1v1h-1zM31 35h1v1h-1zM33 35h1v1h-1zM35 35h1v1h-1zM12 36h4v1h-4zM18 36h2v1h-2zM21 36h4v1h-4zM30 36h1v1h-1zM32 36h3v1h-3z" fill="#000"/><path d="M0 0h7v7h-7zM0.92 0.92v5.16h5.16v-5.16zM2.1 2.1h2.8v2.8h-2.8zM30 0h7v7h-7zM30.92 0.92v5.16h5.16v-5.16zM32.1 2.1h2.8v2.8h-2.8zM0 30h7v7h-7zM0.92 30.92v5.16h5.16v-5.16zM2.1 32.1h2.8v2.8h-2.8z" fill="#000" fill-rule="evenodd"/></svg>
<svg class="i" style="left:337.20px;top:300.60px" width="48.00" height="47.70" viewBox="-10 -10 48.00 47.70"><rect x="6.80" y="-5.10" width="28.00" height="27.70" fill="#12a514"/><rect x="3.40" y="-3.80" width="29.25" height="28.95" fill="#fff"/><rect x="3.40" y="-2.55" width="28.00" height="27.70" fill="#12a514"/><rect x="0" y="-1.25" width="29.25" height="28.95" fill="#fff"/><rect width="28.00" height="27.70" fill="#12a514"/><path d="M7.40 14.90L12.70 20.20L21.80 6.30" fill="none" stroke="#f0fff0" stroke-width="2.80"/><rect x="1.90" y="-6.80" width="3.80" height="7.60" fill="#1268b8"/><rect x="1.90" y="0.80" width="3.60" height="10.00" fill="#1268b8" opacity="0.4"/></svg>
<svg class="i" style="left:411.40px;top:299.50px" width="50.50" height="50.50" viewBox="-10 -10 50.50 50.50"><rect width="30.5" height="30.5" fill="#12a514"/><path d="M8.30 16.30L13.90 22.40L24.60 6.70" fill="none" stroke="#f0fff0" stroke-width="3.00" stroke-linejoin="miter"/></svg>
<svg class="i" style="left:475.00px;top:301.20px" width="48.00" height="47.70" viewBox="-10 -10 48.00 47.70"><rect x="6.80" y="-5.10" width="28.00" height="27.70" fill="#12a514"/><rect x="3.40" y="-3.80" width="29.25" height="28.95" fill="#fff"/><rect x="3.40" y="-2.55" width="28.00" height="27.70" fill="#12a514"/><rect x="0" y="-1.25" width="29.25" height="28.95" fill="#fff"/><rect width="28.00" height="27.70" fill="#12a514"/><path d="M7.40 14.90L12.70 20.20L21.80 6.30" fill="none" stroke="#f0fff0" stroke-width="2.80"/><rect x="1.90" y="-6.80" width="3.80" height="7.60" fill="#1268b8"/><rect x="1.90" y="0.80" width="3.60" height="10.00" fill="#1268b8" opacity="0.4"/></svg>
<svg class="i" style="left:544.10px;top:301.20px" width="48.00" height="47.70" viewBox="-10 -10 48.00 47.70"><rect x="6.80" y="-5.10" width="28.00" height="27.70" fill="#12a514"/><rect x="3.40" y="-3.80" width="29.25" height="28.95" fill="#fff"/><rect x="3.40" y="-2.55" width="28.00" height="27.70" fill="#12a514"/><rect x="0" y="-1.25" width="29.25" height="28.95" fill="#fff"/><rect width="28.00" height="27.70" fill="#12a514"/><path d="M7.40 14.90L12.70 20.20L21.80 6.30" fill="none" stroke="#f0fff0" stroke-width="2.80"/><rect x="1.90" y="-6.80" width="3.80" height="7.60" fill="#1268b8"/><rect x="1.90" y="0.80" width="3.60" height="10.00" fill="#1268b8" opacity="0.4"/></svg>
<svg class="i" style="left:606.70px;top:302.80px" width="54.80" height="49.90" viewBox="-10 -10 54.80 49.90"><path d="M26.60 -6.60L44.00 23.30L9.20 23.30Z" fill="#e6a23a"/><path d="M24.10 -6.60L41.50 23.30L6.70 23.30Z" fill="#fffdf2"/><path d="M22.00 -3.30L39.40 26.60L4.60 26.60Z" fill="#e79a4a"/><path d="M19.50 -3.30L36.90 26.60L2.10 26.60Z" fill="#fffdf2"/><path d="M17.40 0.00L34.80 29.90L0.00 29.90Z" fill="#e9a22c"/><path d="M11.35 22.55C13.85 17.33 16.04 18.80 17.60 21.38S21.35 25.05 23.85 19.61" fill="none" stroke="#fffbe8" stroke-width="1.9" stroke-linecap="round"/><rect x="5.80" y="-6.80" width="4.60" height="17.00" rx="0.80" fill="#1268b8"/><rect x="5.80" y="12.40" width="4.60" height="4.30" rx="1.50" fill="#1268b8"/></svg>
<svg class="i" style="left:681.50px;top:303.80px" width="48.00" height="47.70" viewBox="-10 -10 48.00 47.70"><rect x="6.80" y="-5.10" width="28.00" height="27.70" fill="#12a514"/><rect x="3.40" y="-3.80" width="29.25" height="28.95" fill="#fff"/><rect x="3.40" y="-2.55" width="28.00" height="27.70" fill="#12a514"/><rect x="0" y="-1.25" width="29.25" height="28.95" fill="#fff"/><rect width="28.00" height="27.70" fill="#12a514"/><path d="M7.40 14.90L12.70 20.20L21.80 6.30" fill="none" stroke="#f0fff0" stroke-width="2.80"/><rect x="1.90" y="-6.80" width="3.80" height="7.60" fill="#1268b8"/><rect x="1.90" y="0.80" width="3.60" height="10.00" fill="#1268b8" opacity="0.4"/></svg>
<svg class="i" style="left:824.80px;top:300.00px" width="50.50" height="50.50" viewBox="-10 -10 50.50 50.50"><rect width="30.5" height="30.5" fill="#12a514"/><path d="M8.30 16.30L13.90 22.40L24.60 6.70" fill="none" stroke="#f0fff0" stroke-width="3.00" stroke-linejoin="miter"/></svg>
<svg class="i" style="left:957.00px;top:303.80px" width="48.00" height="47.70" viewBox="-10 -10 48.00 47.70"><rect x="6.80" y="-5.10" width="28.00" height="27.70" fill="#12a514"/><rect x="3.40" y="-3.80" width="29.25" height="28.95" fill="#fff"/><rect x="3.40" y="-2.55" width="28.00" height="27.70" fill="#12a514"/><rect x="0" y="-1.25" width="29.25" height="28.95" fill="#fff"/><rect width="28.00" height="27.70" fill="#12a514"/><path d="M7.40 14.90L12.70 20.20L21.80 6.30" fill="none" stroke="#f0fff0" stroke-width="2.80"/><rect x="1.90" y="-6.80" width="3.80" height="7.60" fill="#1268b8"/><rect x="1.90" y="0.80" width="3.60" height="10.00" fill="#1268b8" opacity="0.4"/></svg>
<svg class="i" style="left:1025.90px;top:301.50px" width="48.00" height="47.70" viewBox="-10 -10 48.00 47.70"><rect x="6.80" y="-5.10" width="28.00" height="27.70" fill="#12a514"/><rect x="3.40" y="-3.80" width="29.25" height="28.95" fill="#fff"/><rect x="3.40" y="-2.55" width="28.00" height="27.70" fill="#12a514"/><rect x="0" y="-1.25" width="29.25" height="28.95" fill="#fff"/><rect width="28.00" height="27.70" fill="#12a514"/><path d="M7.40 14.90L12.70 20.20L21.80 6.30" fill="none" stroke="#f0fff0" stroke-width="2.80"/><rect x="1.90" y="-6.80" width="3.80" height="7.60" fill="#1268b8"/><rect x="1.90" y="0.80" width="3.60" height="10.00" fill="#1268b8" opacity="0.4"/></svg>
<svg class="i" style="left:337.20px;top:408.20px" width="48.00" height="47.70" viewBox="-10 -10 48.00 47.70"><rect x="6.80" y="-5.10" width="28.00" height="27.70" fill="#12a514"/><rect x="3.40" y="-3.80" width="29.25" height="28.95" fill="#fff"/><rect x="3.40" y="-2.55" width="28.00" height="27.70" fill="#12a514"/><rect x="0" y="-1.25" width="29.25" height="28.95" fill="#fff"/><rect width="28.00" height="27.70" fill="#12a514"/><path d="M7.40 14.90L12.70 20.20L21.80 6.30" fill="none" stroke="#f0fff0" stroke-width="2.80"/><rect x="1.90" y="-6.80" width="3.80" height="7.60" fill="#1268b8"/><rect x="1.90" y="0.80" width="3.60" height="10.00" fill="#1268b8" opacity="0.4"/></svg>
<svg class="i" style="left:410.00px;top:402.40px" width="53.00" height="53.00" viewBox="-10 -10 53.00 53.00"><circle cx="16.5" cy="16.5" r="16.5" fill="#e61416"/><rect x="5.94" y="14.03" width="21.95" height="5.38" fill="#fff5f2"/></svg>
<svg class="i" style="left:480.20px;top:403.00px" width="50.50" height="50.50" viewBox="-10 -10 50.50 50.50"><rect width="30.5" height="30.5" fill="#12a514"/><path d="M8.30 16.30L13.90 22.40L24.60 6.70" fill="none" stroke="#f0fff0" stroke-width="3.00" stroke-linejoin="miter"/></svg>
<svg class="i" style="left:618.10px;top:403.00px" width="50.50" height="50.50" viewBox="-10 -10 50.50 50.50"><rect width="30.5" height="30.5" fill="#12a514"/><path d="M8.30 16.30L13.90 22.40L24.60 6.70" fill="none" stroke="#f0fff0" stroke-width="3.00" stroke-linejoin="miter"/></svg>
<svg class="i" style="left:676.20px;top:404.80px" width="54.80" height="49.90" viewBox="-10 -10 54.80 49.90"><path d="M26.60 -6.60L44.00 23.30L9.20 23.30Z" fill="#e6a23a"/><path d="M24.10 -6.60L41.50 23.30L6.70 23.30Z" fill="#fffdf2"/><path d="M22.00 -3.30L39.40 26.60L4.60 26.60Z" fill="#e79a4a"/><path d="M19.50 -3.30L36.90 26.60L2.10 26.60Z" fill="#fffdf2"/><path d="M17.40 0.00L34.80 29.90L0.00 29.90Z" fill="#e9a22c"/><path d="M11.35 22.55C13.85 17.33 16.04 18.80 17.60 21.38S21.35 25.05 23.85 19.61" fill="none" stroke="#fffbe8" stroke-width="1.9" stroke-linecap="round"/><rect x="5.80" y="-6.80" width="4.60" height="17.00" rx="0.80" fill="#1268b8"/><rect x="5.80" y="12.40" width="4.60" height="4.30" rx="1.50" fill="#1268b8"/></svg>
<svg class="i" style="left:818.50px;top:394.10px" width="63.50" height="57.50" viewBox="-10 -10 63.50 57.50"><path d="M21.75 0L43.50 37.5L0 37.5Z" fill="#e9a22c"/><path d="M13.05 27.51C16.53 20.25 19.57 22.29 21.75 25.87S26.97 30.99 30.45 23.42" fill="none" stroke="#fffbe8" stroke-width="2.3" stroke-linecap="round"/></svg>
<svg class="i" style="left:883.60px;top:403.20px" width="54.80" height="49.90" viewBox="-10 -10 54.80 49.90"><path d="M26.60 -6.60L44.00 23.30L9.20 23.30Z" fill="#e6a23a"/><path d="M24.10 -6.60L41.50 23.30L6.70 23.30Z" fill="#fffdf2"/><path d="M22.00 -3.30L39.40 26.60L4.60 26.60Z" fill="#e79a4a"/><path d="M19.50 -3.30L36.90 26.60L2.10 26.60Z" fill="#fffdf2"/><path d="M17.40 0.00L34.80 29.90L0.00 29.90Z" fill="#e9a22c"/><path d="M11.35 22.55C13.85 17.33 16.04 18.80 17.60 21.38S21.35 25.05 23.85 19.61" fill="none" stroke="#fffbe8" stroke-width="1.9" stroke-linecap="round"/><rect x="5.80" y="-6.80" width="4.60" height="17.00" rx="0.80" fill="#1268b8"/><rect x="5.80" y="12.40" width="4.60" height="4.30" rx="1.50" fill="#1268b8"/></svg>
<svg class="i" style="left:955.40px;top:406.20px" width="50.60" height="50.60" viewBox="-10 -10 50.60 50.60"><circle cx="23.30" cy="10.30" r="14.80" fill="#fff" stroke="#b41010" stroke-width="1.40"/><circle cx="19.30" cy="12.80" r="14.80" fill="#fff" stroke="#b41010" stroke-width="1.40"/><circle cx="15.30" cy="15.30" r="16.30" fill="#fff"/><circle cx="15.30" cy="15.30" r="15.30" fill="#e61416"/><rect x="5.05" y="12.85" width="20.35" height="5.05" fill="#fff5f2"/><rect x="1.30" y="-8.80" width="4.00" height="16.00" rx="0.80" fill="#1268b8"/><rect x="1.30" y="8.30" width="4.00" height="3.60" rx="1.40" fill="#1d7f8c"/></svg>
<svg class="i" style="left:1020.70px;top:403.20px" width="54.80" height="49.90" viewBox="-10 -10 54.80 49.90"><path d="M26.60 -6.60L44.00 23.30L9.20 23.30Z" fill="#e6a23a"/><path d="M24.10 -6.60L41.50 23.30L6.70 23.30Z" fill="#fffdf2"/><path d="M22.00 -3.30L39.40 26.60L4.60 26.60Z" fill="#e79a4a"/><path d="M19.50 -3.30L36.90 26.60L2.10 26.60Z" fill="#fffdf2"/><path d="M17.40 0.00L34.80 29.90L0.00 29.90Z" fill="#e9a22c"/><path d="M11.35 22.55C13.85 17.33 16.04 18.80 17.60 21.38S21.35 25.05 23.85 19.61" fill="none" stroke="#fffbe8" stroke-width="1.9" stroke-linecap="round"/><rect x="5.80" y="-6.80" width="4.60" height="17.00" rx="0.80" fill="#1268b8"/><rect x="5.80" y="12.40" width="4.60" height="4.30" rx="1.50" fill="#1268b8"/></svg>
<svg class="i" style="left:334.90px;top:503.20px" width="50.60" height="50.60" viewBox="-10 -10 50.60 50.60"><circle cx="23.30" cy="10.30" r="14.80" fill="#fff" stroke="#b41010" stroke-width="1.40"/><circle cx="19.30" cy="12.80" r="14.80" fill="#fff" stroke="#b41010" stroke-width="1.40"/><circle cx="15.30" cy="15.30" r="16.30" fill="#fff"/><circle cx="15.30" cy="15.30" r="15.30" fill="#e61416"/><rect x="5.05" y="12.85" width="20.35" height="5.05" fill="#fff5f2"/><rect x="1.30" y="-8.80" width="4.00" height="16.00" rx="0.80" fill="#1268b8"/><rect x="1.30" y="8.30" width="4.00" height="3.60" rx="1.40" fill="#1d7f8c"/></svg>
<svg class="i" style="left:411.40px;top:501.20px" width="50.50" height="50.50" viewBox="-10 -10 50.50 50.50"><rect width="30.5" height="30.5" fill="#12a514"/><path d="M8.30 16.30L13.90 22.40L24.60 6.70" fill="none" stroke="#f0fff0" stroke-width="3.00" stroke-linejoin="miter"/></svg>
<svg class="i" style="left:480.20px;top:497.70px" width="50.50" height="50.50" viewBox="-10 -10 50.50 50.50"><rect width="30.5" height="30.5" fill="#12a514"/><path d="M8.30 16.30L13.90 22.40L24.60 6.70" fill="none" stroke="#f0fff0" stroke-width="3.00" stroke-linejoin="miter"/></svg>
<svg class="i" style="left:544.10px;top:503.80px" width="48.00" height="47.70" viewBox="-10 -10 48.00 47.70"><rect x="6.80" y="-5.10" width="28.00" height="27.70" fill="#12a514"/><rect x="3.40" y="-3.80" width="29.25" height="28.95" fill="#fff"/><rect x="3.40" y="-2.55" width="28.00" height="27.70" fill="#12a514"/><rect x="0" y="-1.25" width="29.25" height="28.95" fill="#fff"/><rect width="28.00" height="27.70" fill="#12a514"/><path d="M7.40 14.90L12.70 20.20L21.80 6.30" fill="none" stroke="#f0fff0" stroke-width="2.80"/><rect x="1.90" y="-6.80" width="3.80" height="7.60" fill="#1268b8"/><rect x="1.90" y="0.80" width="3.60" height="10.00" fill="#1268b8" opacity="0.4"/></svg>
<svg class="i" style="left:616.80px;top:502.20px" width="53.00" height="53.00" viewBox="-10 -10 53.00 53.00"><circle cx="16.5" cy="16.5" r="16.5" fill="#e61416"/><rect x="5.94" y="14.03" width="21.95" height="5.38" fill="#fff5f2"/></svg>
<svg class="i" style="left:679.30px;top:503.00px" width="50.60" height="50.60" viewBox="-10 -10 50.60 50.60"><circle cx="23.30" cy="10.30" r="14.80" fill="#fff" stroke="#b41010" stroke-width="1.40"/><circle cx="19.30" cy="12.80" r="14.80" fill="#fff" stroke="#b41010" stroke-width="1.40"/><circle cx="15.30" cy="15.30" r="16.30" fill="#fff"/><circle cx="15.30" cy="15.30" r="15.30" fill="#e61416"/><rect x="5.05" y="12.85" width="20.35" height="5.05" fill="#fff5f2"/><rect x="1.30" y="-8.80" width="4.00" height="16.00" rx="0.80" fill="#1268b8"/><rect x="1.30" y="8.30" width="4.00" height="3.60" rx="1.40" fill="#1d7f8c"/></svg>
<svg class="i" style="left:824.80px;top:504.10px" width="50.50" height="50.50" viewBox="-10 -10 50.50 50.50"><rect width="30.5" height="30.5" fill="#12a514"/><path d="M8.30 16.30L13.90 22.40L24.60 6.70" fill="none" stroke="#f0fff0" stroke-width="3.00" stroke-linejoin="miter"/></svg>
<svg class="i" style="left:888.10px;top:507.00px" width="48.00" height="47.70" viewBox="-10 -10 48.00 47.70"><rect x="6.80" y="-5.10" width="28.00" height="27.70" fill="#12a514"/><rect x="3.40" y="-3.80" width="29.25" height="28.95" fill="#fff"/><rect x="3.40" y="-2.55" width="28.00" height="27.70" fill="#12a514"/><rect x="0" y="-1.25" width="29.25" height="28.95" fill="#fff"/><rect width="28.00" height="27.70" fill="#12a514"/><path d="M7.40 14.90L12.70 20.20L21.80 6.30" fill="none" stroke="#f0fff0" stroke-width="2.80"/><rect x="1.90" y="-6.80" width="3.80" height="7.60" fill="#1268b8"/><rect x="1.90" y="0.80" width="3.60" height="10.00" fill="#1268b8" opacity="0.4"/></svg>
<svg class="i" style="left:957.00px;top:505.80px" width="48.00" height="47.70" viewBox="-10 -10 48.00 47.70"><rect x="6.80" y="-5.10" width="28.00" height="27.70" fill="#12a514"/><rect x="3.40" y="-3.80" width="29.25" height="28.95" fill="#fff"/><rect x="3.40" y="-2.55" width="28.00" height="27.70" fill="#12a514"/><rect x="0" y="-1.25" width="29.25" height="28.95" fill="#fff"/><rect width="28.00" height="27.70" fill="#12a514"/><path d="M7.40 14.90L12.70 20.20L21.80 6.30" fill="none" stroke="#f0fff0" stroke-width="2.80"/><rect x="1.90" y="-6.80" width="3.80" height="7.60" fill="#1268b8"/><rect x="1.90" y="0.80" width="3.60" height="10.00" fill="#1268b8" opacity="0.4"/></svg>
<svg class="i" style="left:1031.80px;top:507.00px" width="50.50" height="50.50" viewBox="-10 -10 50.50 50.50"><rect width="30.5" height="30.5" fill="#12a514"/><path d="M8.30 16.30L13.90 22.40L24.60 6.70" fill="none" stroke="#f0fff0" stroke-width="3.00" stroke-linejoin="miter"/></svg>
<svg class="i" style="left:334.90px;top:596.00px" width="50.60" height="50.60" viewBox="-10 -10 50.60 50.60"><circle cx="23.30" cy="10.30" r="14.80" fill="#fff" stroke="#b41010" stroke-width="1.40"/><circle cx="19.30" cy="12.80" r="14.80" fill="#fff" stroke="#b41010" stroke-width="1.40"/><circle cx="15.30" cy="15.30" r="16.30" fill="#fff"/><circle cx="15.30" cy="15.30" r="15.30" fill="#e61416"/><rect x="5.05" y="12.85" width="20.35" height="5.05" fill="#fff5f2"/><rect x="1.30" y="-8.80" width="4.00" height="16.00" rx="0.80" fill="#1268b8"/><rect x="1.30" y="8.30" width="4.00" height="3.60" rx="1.40" fill="#1d7f8c"/></svg>
<svg class="i" style="left:410.00px;top:593.80px" width="53.00" height="53.00" viewBox="-10 -10 53.00 53.00"><circle cx="16.5" cy="16.5" r="16.5" fill="#e61416"/><rect x="5.94" y="14.03" width="21.95" height="5.38" fill="#fff5f2"/></svg>
<svg class="i" style="left:469.50px;top:600.00px" width="54.80" height="49.90" viewBox="-10 -10 54.80 49.90"><path d="M26.60 -6.60L44.00 23.30L9.20 23.30Z" fill="#e6a23a"/><path d="M24.10 -6.60L41.50 23.30L6.70 23.30Z" fill="#fffdf2"/><path d="M22.00 -3.30L39.40 26.60L4.60 26.60Z" fill="#e79a4a"/><path d="M19.50 -3.30L36.90 26.60L2.10 26.60Z" fill="#fffdf2"/><path d="M17.40 0.00L34.80 29.90L0.00 29.90Z" fill="#e9a22c"/><path d="M11.35 22.55C13.85 17.33 16.04 18.80 17.60 21.38S21.35 25.05 23.85 19.61" fill="none" stroke="#fffbe8" stroke-width="1.9" stroke-linecap="round"/><rect x="5.80" y="-6.80" width="4.60" height="17.00" rx="0.80" fill="#1268b8"/><rect x="5.80" y="12.40" width="4.60" height="4.30" rx="1.50" fill="#1268b8"/></svg>
<svg class="i" style="left:616.80px;top:587.00px" width="53.00" height="53.00" viewBox="-10 -10 53.00 53.00"><circle cx="16.5" cy="16.5" r="16.5" fill="#e61416"/><rect x="5.94" y="14.03" width="21.95" height="5.38" fill="#fff5f2"/></svg>
<svg class="i" style="left:676.20px;top:599.40px" width="54.80" height="49.90" viewBox="-10 -10 54.80 49.90"><path d="M26.60 -6.60L44.00 23.30L9.20 23.30Z" fill="#e6a23a"/><path d="M24.10 -6.60L41.50 23.30L6.70 23.30Z" fill="#fffdf2"/><path d="M22.00 -3.30L39.40 26.60L4.60 26.60Z" fill="#e79a4a"/><path d="M19.50 -3.30L36.90 26.60L2.10 26.60Z" fill="#fffdf2"/><path d="M17.40 0.00L34.80 29.90L0.00 29.90Z" fill="#e9a22c"/><path d="M11.35 22.55C13.85 17.33 16.04 18.80 17.60 21.38S21.35 25.05 23.85 19.61" fill="none" stroke="#fffbe8" stroke-width="1.9" stroke-linecap="round"/><rect x="5.80" y="-6.80" width="4.60" height="17.00" rx="0.80" fill="#1268b8"/><rect x="5.80" y="12.40" width="4.60" height="4.30" rx="1.50" fill="#1268b8"/></svg>
<svg class="i" style="left:824.20px;top:586.40px" width="53.00" height="53.00" viewBox="-10 -10 53.00 53.00"><circle cx="16.5" cy="16.5" r="16.5" fill="#e61416"/><rect x="5.94" y="14.03" width="21.95" height="5.38" fill="#fff5f2"/></svg>
<svg class="i" style="left:886.10px;top:596.00px" width="50.60" height="50.60" viewBox="-10 -10 50.60 50.60"><circle cx="23.30" cy="10.30" r="14.80" fill="#fff" stroke="#b41010" stroke-width="1.40"/><circle cx="19.30" cy="12.80" r="14.80" fill="#fff" stroke="#b41010" stroke-width="1.40"/><circle cx="15.30" cy="15.30" r="16.30" fill="#fff"/><circle cx="15.30" cy="15.30" r="15.30" fill="#e61416"/><rect x="5.05" y="12.85" width="20.35" height="5.05" fill="#fff5f2"/><rect x="1.30" y="-8.80" width="4.00" height="16.00" rx="0.80" fill="#1268b8"/><rect x="1.30" y="8.30" width="4.00" height="3.60" rx="1.40" fill="#1d7f8c"/></svg>
<svg class="i" style="left:955.40px;top:596.00px" width="50.60" height="50.60" viewBox="-10 -10 50.60 50.60"><circle cx="23.30" cy="10.30" r="14.80" fill="#fff" stroke="#b41010" stroke-width="1.40"/><circle cx="19.30" cy="12.80" r="14.80" fill="#fff" stroke="#b41010" stroke-width="1.40"/><circle cx="15.30" cy="15.30" r="16.30" fill="#fff"/><circle cx="15.30" cy="15.30" r="15.30" fill="#e61416"/><rect x="5.05" y="12.85" width="20.35" height="5.05" fill="#fff5f2"/><rect x="1.30" y="-8.80" width="4.00" height="16.00" rx="0.80" fill="#1268b8"/><rect x="1.30" y="8.30" width="4.00" height="3.60" rx="1.40" fill="#1d7f8c"/></svg>
<svg class="i" style="left:1024.20px;top:597.80px" width="50.60" height="50.60" viewBox="-10 -10 50.60 50.60"><circle cx="23.30" cy="10.30" r="14.80" fill="#fff" stroke="#b41010" stroke-width="1.40"/><circle cx="19.30" cy="12.80" r="14.80" fill="#fff" stroke="#b41010" stroke-width="1.40"/><circle cx="15.30" cy="15.30" r="16.30" fill="#fff"/><circle cx="15.30" cy="15.30" r="15.30" fill="#e61416"/><rect x="5.05" y="12.85" width="20.35" height="5.05" fill="#fff5f2"/><rect x="1.30" y="-8.80" width="4.00" height="16.00" rx="0.80" fill="#1268b8"/><rect x="1.30" y="8.30" width="4.00" height="3.60" rx="1.40" fill="#1d7f8c"/></svg>
<svg class="i" style="left:24.00px;top:663.00px" width="33.90" height="33.90" viewBox="-10 -10 33.90 33.90"><rect width="13.9" height="13.9" fill="#12a514"/><path d="M3.78 7.43L6.33 10.21L11.21 3.05" fill="none" stroke="#f0fff0" stroke-width="1.37" stroke-linejoin="miter"/></svg>
<svg class="i" style="left:23.90px;top:690.20px" width="34.40" height="34.40" viewBox="-10 -10 34.40 34.40"><circle cx="7.2" cy="7.2" r="7.2" fill="#e61416"/><rect x="2.59" y="6.12" width="9.58" height="2.35" fill="#fff5f2"/></svg>
<svg class="i" style="left:24.00px;top:719.20px" width="33.20" height="30.60" viewBox="-10 -10 33.20 30.60"><path d="M6.60 0L13.20 10.6L0 10.6Z" fill="#e9a22c"/><path d="M3.96 7.81C5.02 5.61 5.94 6.23 6.60 7.31S8.18 8.87 9.24 6.57" fill="none" stroke="#fffbe8" stroke-width="0.6979310344827585" stroke-linecap="round"/></svg>
<svg class="i" style="left:185.00px;top:667.90px" width="30.36" height="30.25" viewBox="-10 -10 30.36 30.25"><rect x="2.52" y="-1.89" width="10.36" height="10.25" fill="#12a514"/><rect x="1.26" y="-1.41" width="10.82" height="10.71" fill="#fff"/><rect x="1.26" y="-0.94" width="10.36" height="10.25" fill="#12a514"/><rect x="0" y="-0.46" width="10.82" height="10.71" fill="#fff"/><rect width="10.36" height="10.25" fill="#12a514"/><path d="M2.74 5.51L4.70 7.47L8.07 2.33" fill="none" stroke="#f0fff0" stroke-width="1.04"/><rect x="0.70" y="-2.52" width="1.41" height="2.81" fill="#1268b8"/><rect x="0.70" y="0.30" width="1.33" height="3.70" fill="#1268b8" opacity="0.4"/></svg>
<svg class="i" style="left:185.00px;top:694.20px" width="31.02" height="31.02" viewBox="-10 -10 31.02 31.02"><circle cx="8.39" cy="3.71" r="5.33" fill="#fff" stroke="#b41010" stroke-width="0.50"/><circle cx="6.95" cy="4.61" r="5.33" fill="#fff" stroke="#b41010" stroke-width="0.50"/><circle cx="5.51" cy="5.51" r="5.87" fill="#fff"/><circle cx="5.51" cy="5.51" r="5.51" fill="#e61416"/><rect x="1.82" y="4.63" width="7.33" height="1.82" fill="#fff5f2"/><rect x="0.47" y="-3.17" width="1.44" height="5.76" rx="0.29" fill="#1268b8"/><rect x="0.47" y="2.99" width="1.44" height="1.30" rx="0.50" fill="#1d7f8c"/></svg>
<svg class="i" style="left:185.40px;top:721.00px" width="30.79" height="29.27" viewBox="-10 -10 30.79 29.27"><path d="M8.25 -2.05L13.64 7.22L2.85 7.22Z" fill="#e6a23a"/><path d="M7.47 -2.05L12.86 7.22L2.08 7.22Z" fill="#fffdf2"/><path d="M6.82 -1.02L12.21 8.25L1.43 8.25Z" fill="#e79a4a"/><path d="M6.04 -1.02L11.44 8.25L0.65 8.25Z" fill="#fffdf2"/><path d="M5.39 0.00L10.79 9.27L0.00 9.27Z" fill="#e9a22c"/><path d="M3.52 6.99C4.29 5.37 4.97 5.83 5.46 6.63S6.62 7.77 7.39 6.08" fill="none" stroke="#fffbe8" stroke-width="0.589" stroke-linecap="round"/><rect x="1.80" y="-2.11" width="1.43" height="5.27" rx="0.25" fill="#1268b8"/><rect x="1.80" y="3.84" width="1.43" height="1.33" rx="0.46" fill="#1268b8"/></svg>
<div class="t" style="font-size:18.67px;color:#e9636b;font-weight:bold;left:72.00px;top:50.00px;transform:scaleX(1.0000);">Der Oberhavel-steht-auf</div>
<div class="t" style="font-size:32.00px;color:#1c7fc4;font-weight:bold;left:46.40px;top:79.00px;transform:scaleX(0.9933);">Kandidatencheck</div>
<div class="t" style="font-size:18.67px;color:#e9636b;font-weight:bold;left:70.80px;top:123.00px;transform:scaleX(1.0000);">Direktkandidaten WK 58:</div>
<div class="t" style="font-size:18.67px;color:#e9636b;font-weight:bold;left:77.60px;top:145.00px;transform:scaleX(1.0000);">Oberhavel-Havelland II</div>
<div class="t" style="font-size:10.67px;color:#2a84c4;font-style:italic;left:178.30px;top:183.00px;transform:scaleX(1.0000);">Stand: 18.09.2021, 07.00 Uhr</div>
<div class="t" style="font-size:13.20px;color:#000;font-weight:bold;left:37.40px;top:215.00px;transform:scaleX(0.9643);">Link zu allen Fragen und Antworten bei</div>
<div class="t" style="font-size:13.20px;color:#000;font-weight:bold;font-style:italic;left:37.40px;top:233.00px;transform:scaleX(0.9873);">abgeordnetenwatch.de</div>
<div class="t" style="font-size:13.20px;color:#000;font-weight:bold;left:37.40px;top:276.00px;transform:scaleX(0.9494);">Sind Sie der Auffassung, dass Informationen</div>
<div class="t" style="font-size:13.20px;color:#000;font-weight:bold;left:37.40px;top:294.00px;transform:scaleX(0.9478);">über die Funktionsweise unseres Geldsystems</div>
<div class="t" style="font-size:13.20px;color:#000;font-weight:bold;left:37.40px;top:312.00px;transform:scaleX(0.9706);">mehr Raum in der öffentlichen Berichterstat-</div>
<div class="t" style="font-size:13.20px;color:#000;font-weight:bold;left:37.40px;top:329.00px;transform:scaleX(0.9645);">tung und im Bildungswesen einnehmen</div>
<div class="t" style="font-size:13.20px;color:#000;font-weight:bold;left:37.40px;top:347.00px;transform:scaleX(0.9468);">sollten?</div>
<div class="t" style="font-size:13.20px;color:#000;font-weight:bold;left:37.40px;top:384.00px;transform:scaleX(0.9433);">Sind Sie der Auffassung, dass der öffentlich-</div>
<div class="t" style="font-size:13.20px;color:#000;font-weight:bold;left:37.40px;top:402.00px;transform:scaleX(0.9560);">rechtliche Rundfunk seiner „Verpflichtung zur</div>
<div class="t" style="font-size:13.20px;color:#000;font-weight:bold;left:37.40px;top:420.00px;transform:scaleX(0.9870);">freien individuellen und öffentlichen Mei-</div>
<div class="t" style="font-size:13.20px;color:#000;font-weight:bold;left:37.40px;top:437.00px;transform:scaleX(0.9641);">nungsbildung sowie der Meinungsvielfalt“ (vgl.</div>
<div class="t" style="font-size:13.20px;color:#000;font-weight:bold;left:37.40px;top:455.00px;transform:scaleX(0.9759);">MStV) gerecht wird?</div>
<div class="t" style="font-size:13.20px;color:#000;font-weight:bold;left:37.40px;top:497.00px;transform:scaleX(0.9578);">Sind Sie für die Einführung von bundesweiten</div>
<div class="t" style="font-size:13.20px;color:#000;font-weight:bold;left:37.40px;top:514.00px;transform:scaleX(0.9379);">Volksentscheiden als Ergänzung zur</div>
<div class="t" style="font-size:13.20px;color:#000;font-weight:bold;left:37.40px;top:532.00px;transform:scaleX(0.9766);">repräsentativen Demokratie?</div>
<div class="t" style="font-size:13.20px;color:#000;font-weight:bold;left:37.40px;top:571.00px;transform:scaleX(0.9347);">Sind Sie der Auffassung, dass der Bundestag</div>
<div class="t" style="font-size:13.20px;color:#000;font-weight:bold;left:37.40px;top:589.00px;transform:scaleX(0.9544);">wesentliche Entscheidungskompetenzen (z.B.</div>
<div class="t" style="font-size:13.20px;color:#000;font-weight:bold;left:37.40px;top:607.00px;transform:scaleX(0.9499);">Einsatz des Militärs, Gesundheitsschutz,</div>
<div class="t" style="font-size:13.20px;color:#000;font-weight:bold;left:37.40px;top:624.00px;transform:scaleX(0.9635);">Bundeshaushalt) an übergeordnete Instanzen</div>
<div class="t" style="font-size:13.20px;color:#000;font-weight:bold;left:37.40px;top:642.00px;transform:scaleX(0.9795);">wie die EU abtreten darf?</div>
<div class="t" style="font-size:14.40px;color:#000;font-weight:bold;-webkit-text-stroke:0.2px #000;left:344.00px;top:183.80px;transform:rotate(-90deg) scaleX(0.9820);">Uwe Feiler</div>
<div class="t" style="font-size:14.40px;color:#000;-webkit-text-stroke:0.3px #000;left:378.00px;top:183.80px;transform:rotate(-90deg) scaleX(0.9406);">(CDU)</div>
<div class="t" style="font-size:14.40px;color:#000;font-weight:bold;-webkit-text-stroke:0.2px #000;left:413.00px;top:183.80px;transform:rotate(-90deg) scaleX(0.9629);">Ulrich Storm</div>
<div class="t" style="font-size:14.40px;color:#000;-webkit-text-stroke:0.3px #000;left:447.00px;top:183.80px;transform:rotate(-90deg) scaleX(1.0033);">(AfD)</div>
<div class="t" style="font-size:14.40px;color:#000;font-weight:bold;-webkit-text-stroke:0.2px #000;left:482.00px;top:183.80px;transform:rotate(-90deg) scaleX(0.9394);">Ariane Fäscher</div>
<div class="t" style="font-size:14.40px;color:#000;-webkit-text-stroke:0.3px #000;left:516.00px;top:183.80px;transform:rotate(-90deg) scaleX(0.8975);">(SPD)</div>
<div class="t" style="font-size:14.40px;color:#000;font-weight:bold;-webkit-text-stroke:0.2px #000;left:551.00px;top:183.80px;transform:rotate(-90deg) scaleX(0.9493);">Anke Domscheit-Berg</div>
<div class="t" style="font-size:14.40px;color:#000;-webkit-text-stroke:0.3px #000;left:585.00px;top:183.80px;transform:rotate(-90deg) scaleX(0.9818);">(Die Linke)</div>
<div class="t" style="font-size:14.40px;color:#000;font-weight:bold;-webkit-text-stroke:0.2px #000;left:620.00px;top:183.80px;transform:rotate(-90deg) scaleX(0.9744);">Ralf Tiedemann</div>
<div class="t" style="font-size:14.40px;color:#000;-webkit-text-stroke:0.3px #000;left:654.00px;top:183.80px;transform:rotate(-90deg) scaleX(0.9165);">(FDP)</div>
<div class="t" style="font-size:14.40px;color:#000;font-weight:bold;-webkit-text-stroke:0.2px #000;left:689.00px;top:183.80px;transform:rotate(-90deg) scaleX(0.9489);">Anne Schumacher</div>
<div class="t" style="font-size:14.40px;color:#000;-webkit-text-stroke:0.3px #000;left:722.00px;top:183.80px;transform:rotate(-90deg) scaleX(1.0347);">(B'90/Grüne)</div>
<div class="t" style="font-size:14.40px;color:#000;font-weight:bold;-webkit-text-stroke:0.2px #000;left:758.00px;top:183.80px;transform:rotate(-90deg) scaleX(0.9489);">Rick Grothe</div>
<div class="t" style="font-size:14.40px;color:#000;-webkit-text-stroke:0.3px #000;left:791.00px;top:183.80px;transform:rotate(-90deg) scaleX(1.0135);">(die Partei)</div>
<div class="t" style="font-size:14.40px;color:#000;font-weight:bold;-webkit-text-stroke:0.2px #000;left:826.00px;top:183.80px;transform:rotate(-90deg) scaleX(0.9699);">Stefanie Gebauer</div>
<div class="t" style="font-size:14.40px;color:#000;-webkit-text-stroke:0.3px #000;left:860.00px;top:183.80px;transform:rotate(-90deg) scaleX(1.0070);">(Freie Wähler)</div>
<div class="t" style="font-size:14.40px;color:#000;font-weight:bold;-webkit-text-stroke:0.2px #000;left:895.00px;top:183.80px;transform:rotate(-90deg) scaleX(0.9829);">Nathanael Uhlig</div>
<div class="t" style="font-size:14.40px;color:#000;-webkit-text-stroke:0.3px #000;left:929.00px;top:183.80px;transform:rotate(-90deg) scaleX(0.9418);">(ÖDP)</div>
<div class="t" style="font-size:14.40px;color:#000;font-weight:bold;-webkit-text-stroke:0.2px #000;left:964.00px;top:183.80px;transform:rotate(-90deg) scaleX(0.9291);">Sven Lingreen</div>
<div class="t" style="font-size:14.40px;color:#000;-webkit-text-stroke:0.3px #000;left:998.00px;top:183.80px;transform:rotate(-90deg) scaleX(0.9736);">(dieBasis)</div>
<div class="t" style="font-size:14.40px;color:#000;font-weight:bold;-webkit-text-stroke:0.2px #000;left:1033.00px;top:183.80px;transform:rotate(-90deg) scaleX(0.9587);">Thomas Ney</div>
<div class="t" style="font-size:14.40px;color:#000;-webkit-text-stroke:0.3px #000;left:1067.00px;top:183.80px;transform:rotate(-90deg) scaleX(1.0142);">(Piraten)</div>
<div class="t" style="font-size:8.54px;color:#8a7f80;font-weight:bold;left:51.20px;top:679.00px;transform:scaleX(0.8917);">…</div>
<div class="t" style="font-size:9.60px;color:#e8626b;-webkit-text-stroke:0.3px #e8626b;left:61.20px;top:678.00px;transform:scaleX(1.0740);">ja/Zustimmung</div>
<div class="t" style="font-size:8.54px;color:#8a7f80;font-weight:bold;left:51.20px;top:708.00px;transform:scaleX(0.8917);">…</div>
<div class="t" style="font-size:9.60px;color:#e8626b;-webkit-text-stroke:0.3px #e8626b;left:61.20px;top:707.00px;transform:scaleX(1.0740);">nein/Ablehnung</div>
<div class="t" style="font-size:8.54px;color:#8a7f80;font-weight:bold;left:50.60px;top:733.00px;transform:scaleX(0.8917);">…</div>
<div class="t" style="font-size:9.60px;color:#e8626b;-webkit-text-stroke:0.3px #e8626b;left:60.60px;top:732.00px;transform:scaleX(1.0898);">ja&amp;nein/Enthaltung</div>
<div class="t" style="font-size:8.54px;color:#8a7f80;font-weight:bold;left:213.40px;top:681.00px;transform:scaleX(0.8917);">…</div>
<div class="t" style="font-size:9.60px;color:#e8626b;-webkit-text-stroke:0.3px #e8626b;left:223.40px;top:680.00px;transform:scaleX(1.0489);">ja/Zustimmung + Erläuterung</div>
<div class="t" style="font-size:8.54px;color:#8a7f80;font-weight:bold;left:213.40px;top:708.00px;transform:scaleX(0.8917);">…</div>
<div class="t" style="font-size:9.60px;color:#e8626b;-webkit-text-stroke:0.3px #e8626b;left:223.40px;top:707.00px;transform:scaleX(1.0496);">nein/Ablehnung + Erläuterung</div>
<div class="t" style="font-size:8.54px;color:#8a7f80;font-weight:bold;left:212.00px;top:733.00px;transform:scaleX(0.8917);">…</div>
<div class="t" style="font-size:9.60px;color:#e8626b;-webkit-text-stroke:0.3px #e8626b;left:222.00px;top:732.00px;transform:scaleX(1.0611);">ja&amp;nein/Enthaltung + Erläuterung</div>
<div class="t" style="font-size:9.60px;color:#e8626b;-webkit-text-stroke:0.3px #e8626b;left:405.00px;top:680.00px;transform:scaleX(1.0439);">k.A. … keine Antwort</div>
<div class="t" style="font-size:10.24px;color:#e9747c;left:544.30px;top:674.00px;transform:scaleX(0.9469);">Die Übersicht spiegelt die Antworten der Direktkandidaten des Wahlkreises 58 (Oberhavel – Havelland II) auf unsere Fragen</div>
<div class="t" style="font-size:10.24px;color:#e9747c;left:544.30px;top:687.00px;transform:scaleX(0.9613);">bei abgeordnetenwatch.de wider. Die vollständigen Antworten können auf abgeordnetenwatch.de eingesehen werden und</div>
<div class="t" style="font-size:10.24px;color:#e9747c;left:544.30px;top:700.00px;transform:scaleX(0.9510);">sind in der elektronischen Version diese Dokumentes verlinkt. Zugang zum jeweiligen Profil der Kandidatin/des Kandidaten</div>
<div class="t" style="font-size:10.24px;color:#e9747c;left:544.30px;top:713.00px;transform:scaleX(0.9428);">erhält man über den QR-Code oder durch Eingabe des Namens bei abgeordnetenwatch.de .</div>
<div class="t" style="font-size:10.24px;color:#15155f;text-decoration:underline;left:656.00px;top:739.00px;transform:scaleX(0.9701);">www.oberhavel-steht-auf.de</div>
<div class="t" style="font-size:10.24px;color:#e9747c;left:779.10px;top:739.00px;transform:scaleX(0.9787);"> // redaktionell verantwortlich J. Müggenburg</div>
<div class="t" style="font-size:16.20px;color:#000;left:766.95px;top:310.00px;transform:scaleX(0.9788);">k.A.</div>
<div class="t" style="font-size:16.20px;color:#000;left:904.75px;top:310.00px;transform:scaleX(0.9788);">k.A.</div>
<div class="t" style="font-size:16.20px;color:#000;left:560.25px;top:420.00px;transform:scaleX(0.9788);">k.A.</div>
<div class="t" style="font-size:16.20px;color:#000;left:766.95px;top:420.00px;transform:scaleX(0.9788);">k.A.</div>
<div class="t" style="font-size:16.20px;color:#000;left:766.95px;top:511.00px;transform:scaleX(0.9788);">k.A.</div>
<div class="t" style="font-size:16.20px;color:#000;left:560.25px;top:605.00px;transform:scaleX(0.9788);">k.A.</div>
<div class="t" style="font-size:16.20px;color:#000;left:766.95px;top:605.00px;transform:scaleX(0.9788);">k.A.</div>
</body></html>
